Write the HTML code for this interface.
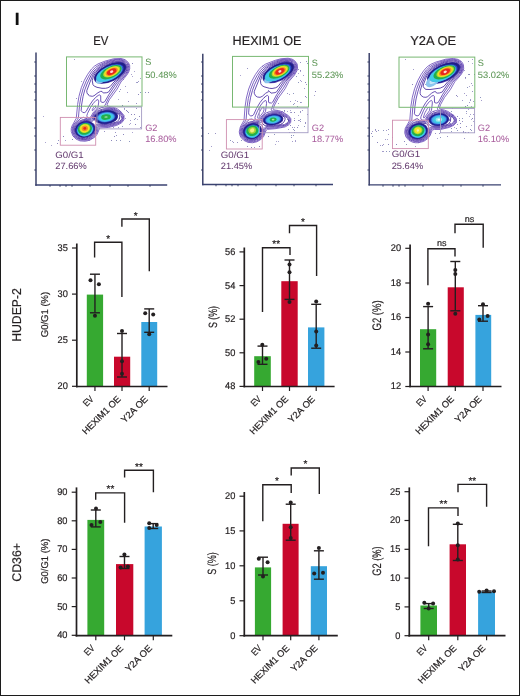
<!DOCTYPE html><html><head><meta charset="utf-8"><style>html,body{margin:0;padding:0;background:#fff}#f{position:relative;width:520px;height:696px;box-sizing:border-box;border:1px solid #1c1c1c;overflow:hidden;background:#fff}svg{position:absolute;left:-1px;top:-1px;will-change:transform}text{font-family:"Liberation Sans",sans-serif;text-rendering:geometricPrecision;stroke-width:0.2px}</style></head><body><div id="f">
<svg width="520" height="696" viewBox="0 0 520 696">
<text x="17.2" y="24.6" font-size="17.5" fill="#111" stroke="#111" text-anchor="middle" font-weight="bold" >I</text>
<g>
<line x1="36" y1="52.5" x2="36" y2="185.7" stroke="#2e3560" stroke-width="1.4" />
<line x1="35.3" y1="185" x2="167.2" y2="185" stroke="#3a4270" stroke-width="1.4" />
<line x1="34.2" y1="62" x2="36" y2="62" stroke="#2e3560" stroke-width="0.9" />
<line x1="34.2" y1="76" x2="36" y2="76" stroke="#2e3560" stroke-width="0.9" />
<line x1="34.2" y1="84" x2="36" y2="84" stroke="#2e3560" stroke-width="0.9" />
<line x1="34.2" y1="92" x2="36" y2="92" stroke="#2e3560" stroke-width="0.9" />
<line x1="34.2" y1="100" x2="36" y2="100" stroke="#2e3560" stroke-width="0.9" />
<line x1="34.2" y1="118" x2="36" y2="118" stroke="#2e3560" stroke-width="0.9" />
<line x1="34.2" y1="128" x2="36" y2="128" stroke="#2e3560" stroke-width="0.9" />
<line x1="34.2" y1="136" x2="36" y2="136" stroke="#2e3560" stroke-width="0.9" />
<line x1="34.2" y1="150" x2="36" y2="150" stroke="#2e3560" stroke-width="0.9" />
<line x1="34.2" y1="170" x2="36" y2="170" stroke="#2e3560" stroke-width="0.9" />
<line x1="50" y1="185" x2="50" y2="186.8" stroke="#2e3560" stroke-width="0.9" />
<line x1="60" y1="185" x2="60" y2="186.8" stroke="#2e3560" stroke-width="0.9" />
<line x1="66" y1="185" x2="66" y2="186.8" stroke="#2e3560" stroke-width="0.9" />
<line x1="72" y1="185" x2="72" y2="186.8" stroke="#2e3560" stroke-width="0.9" />
<line x1="90" y1="185" x2="90" y2="186.8" stroke="#2e3560" stroke-width="0.9" />
<line x1="110" y1="185" x2="110" y2="186.8" stroke="#2e3560" stroke-width="0.9" />
<line x1="128" y1="185" x2="128" y2="186.8" stroke="#2e3560" stroke-width="0.9" />
<line x1="150" y1="185" x2="150" y2="186.8" stroke="#2e3560" stroke-width="0.9" />
<rect x="76" y="98" width="1" height="1" fill="#9a94c4"/>
<rect x="81" y="81" width="1" height="1" fill="#a49dcc"/>
<rect x="90" y="76" width="1" height="1" fill="#aca6d0"/>
<rect x="74" y="59" width="1" height="1" fill="#a49dcc"/>
<rect x="88" y="94" width="1" height="1" fill="#9a94c4"/>
<rect x="134" y="71" width="1" height="1" fill="#aca6d0"/>
<rect x="132" y="63" width="1" height="1" fill="#8c86bc"/>
<rect x="119" y="59" width="1" height="1" fill="#9098c0"/>
<rect x="118" y="99" width="1" height="1" fill="#aca6d0"/>
<rect x="140" y="92" width="1" height="1" fill="#9098c0"/>
<rect x="123" y="79" width="1" height="1" fill="#a49dcc"/>
<rect x="131" y="74" width="1" height="1" fill="#aca6d0"/>
<rect x="136" y="103" width="1" height="1" fill="#9a94c4"/>
<rect x="128" y="101" width="1" height="1" fill="#9a94c4"/>
<rect x="122" y="105" width="1" height="1" fill="#8c86bc"/>
<rect x="121" y="74" width="1" height="1" fill="#9098c0"/>
<rect x="140" y="78" width="1" height="1" fill="#aca6d0"/>
<rect x="125" y="86" width="1" height="1" fill="#a49dcc"/>
<rect x="137" y="82" width="1" height="1" fill="#9098c0"/>
<rect x="138" y="81" width="1" height="1" fill="#a49dcc"/>
<rect x="128" y="66" width="1" height="1" fill="#9098c0"/>
<rect x="138" y="94" width="1" height="1" fill="#8c86bc"/>
<rect x="120" y="89" width="1" height="1" fill="#9a94c4"/>
<rect x="136" y="82" width="1" height="1" fill="#a49dcc"/>
<rect x="127" y="92" width="1" height="1" fill="#a49dcc"/>
<rect x="119" y="91" width="1" height="1" fill="#9098c0"/>
<rect x="132" y="76" width="1" height="1" fill="#aca6d0"/>
<rect x="117" y="113" width="1" height="1" fill="#9a94c4"/>
<rect x="134" y="119" width="1" height="1" fill="#9098c0"/>
<rect x="119" y="118" width="1" height="1" fill="#9098c0"/>
<rect x="122" y="126" width="1" height="1" fill="#9098c0"/>
<rect x="130" y="123" width="1" height="1" fill="#a49dcc"/>
<rect x="135" y="124" width="1" height="1" fill="#9098c0"/>
<rect x="135" y="118" width="1" height="1" fill="#9098c0"/>
<rect x="118" y="127" width="1" height="1" fill="#a49dcc"/>
<rect x="137" y="119" width="1" height="1" fill="#aca6d0"/>
<rect x="139" y="116" width="1" height="1" fill="#8c86bc"/>
<rect x="124" y="108" width="1" height="1" fill="#9098c0"/>
<rect x="130" y="120" width="1" height="1" fill="#a49dcc"/>
<rect x="129" y="124" width="1" height="1" fill="#aca6d0"/>
<rect x="128" y="112" width="1" height="1" fill="#9a94c4"/>
<rect x="135" y="124" width="1" height="1" fill="#8c86bc"/>
<rect x="113" y="127" width="1" height="1" fill="#9a94c4"/>
<rect x="114" y="108" width="1" height="1" fill="#9a94c4"/>
<rect x="134" y="114" width="1" height="1" fill="#8c86bc"/>
<rect x="115" y="120" width="1" height="1" fill="#8c86bc"/>
<rect x="120" y="111" width="1" height="1" fill="#8c86bc"/>
<rect x="127" y="111" width="1" height="1" fill="#8c86bc"/>
<rect x="131" y="114" width="1" height="1" fill="#8c86bc"/>
<rect x="126" y="110" width="1" height="1" fill="#8c86bc"/>
<rect x="123" y="116" width="1" height="1" fill="#aca6d0"/>
<rect x="119" y="113" width="1" height="1" fill="#9098c0"/>
<rect x="140" y="127" width="1" height="1" fill="#a49dcc"/>
<rect x="136" y="108" width="1" height="1" fill="#9a94c4"/>
<rect x="124" y="109" width="1" height="1" fill="#aca6d0"/>
<rect x="125" y="118" width="1" height="1" fill="#a49dcc"/>
<rect x="128" y="112" width="1" height="1" fill="#9098c0"/>
<rect x="116" y="135" width="1" height="1" fill="#9a94c4"/>
<rect x="114" y="136" width="1" height="1" fill="#8c86bc"/>
<rect x="123" y="134" width="1" height="1" fill="#8c86bc"/>
<rect x="104" y="131" width="1" height="1" fill="#9a94c4"/>
<rect x="111" y="140" width="1" height="1" fill="#8c86bc"/>
<rect x="132" y="132" width="1" height="1" fill="#aca6d0"/>
<rect x="115" y="132" width="1" height="1" fill="#9a94c4"/>
<rect x="120" y="140" width="1" height="1" fill="#9098c0"/>
<rect x="129" y="141" width="1" height="1" fill="#9098c0"/>
<rect x="116" y="140" width="1" height="1" fill="#9098c0"/>
<rect x="79" y="138" width="1" height="1" fill="#8c86bc"/>
<rect x="65" y="140" width="1" height="1" fill="#a49dcc"/>
<rect x="82" y="139" width="1" height="1" fill="#a49dcc"/>
<rect x="72" y="139" width="1" height="1" fill="#8c86bc"/>
<rect x="82" y="138" width="1" height="1" fill="#8c86bc"/>
<rect x="63" y="136" width="1" height="1" fill="#8c86bc"/>
<rect x="89" y="140" width="1" height="1" fill="#aca6d0"/>
<rect x="73" y="136" width="1" height="1" fill="#9a94c4"/>
<rect x="57" y="143" width="1" height="1" fill="#8c86bc"/>
<rect x="58" y="140" width="1" height="1" fill="#9098c0"/>
<rect x="51" y="145" width="1" height="1" fill="#aca6d0"/>
<rect x="43" y="116" width="1" height="1" fill="#aca6d0"/>
<rect x="45" y="142" width="1" height="1" fill="#aca6d0"/>
<rect x="145" y="92" width="1" height="1" fill="#9098c0"/>
<rect x="148" y="92" width="1" height="1" fill="#8c86bc"/>
<path d="M105.5 88.3 L102 88.3 L97 87.34 L94.25 86.12 L93 84.78 L92.26 80.75 L93.44 76.25 L95.81 72.25 L99.5 68.7 L103.25 66.2 L111.25 62.72 L116 61.69 L120.75 61.69 L124.5 63.12 L126.26 65.25 L126.56 68.25 L125.76 70.75 L124.13 73.25 L120.5 76.92 L114 81.88 L110.25 86.44 L107.96 87.75 L105.5 88.3Z" fill="none" stroke="#44289a" stroke-width="0.85" stroke-linejoin="round"/>
<path d="M85.5 138.01 L80.75 137.76 L77.98 136.5 L76.37 135.25 L74.74 132.5 L74.44 129 L74.99 127.25 L76.11 125.25 L79.75 122.05 L82.5 120.86 L85.75 120.38 L91.75 121.26 L93 120.82 L93.5 119.96 L93.96 116.25 L95.35 114 L99.25 111.23 L102.5 110.16 L109 109.69 L113 110.46 L115.75 111.77 L119.69 115 L119.8 117 L118.84 119.75 L117 121.75 L116 122.17 L107.75 124.33 L103.75 124.56 L98.75 123.92 L96.5 124.51 L95.54 126.5 L95.27 130.75 L93.38 134 L91.02 136 L88.5 137.26 L85.5 138.01Z" fill="none" stroke="#44289a" stroke-width="0.85" stroke-linejoin="round"/>
<path d="M92.25 96.32 L89.5 95.81 L87.69 94.25 L86.95 92.75 L86.75 90.75 L92.64 75.25 L94.87 71.75 L96.75 69.84 L100.25 66.95 L104.75 64.41 L109.5 62.42 L114.25 61.15 L121 60.91 L124 61.83 L126.5 64 L127.34 66 L127.34 68.5 L125.68 72.5 L121.1 77.5 L115.46 82.25 L108.5 92.07 L106.75 92.71 L103.25 92.97 L102 91.4 L100.5 91.41 L98 92.68 L94 95.8 L92.25 96.32Z" fill="none" stroke="#4c30a4" stroke-width="0.85" stroke-linejoin="round"/>
<path d="M85.75 138.77 L80.75 138.59 L77.5 137.17 L75.75 135.75 L73.98 132.75 L73.64 129 L74.32 126.75 L75.5 124.72 L79.5 121.14 L83.25 119.54 L91.75 119.95 L92.33 119.5 L93.28 115.75 L94.75 113.44 L98.5 110.53 L102.25 109.2 L109 108.88 L113.25 109.7 L116.43 111.25 L121.5 115.85 L121.86 118.5 L121.25 119.83 L119.5 121.37 L116.25 122.95 L108 125.11 L103.75 125.37 L99.25 124.9 L97.57 125.25 L96.7 126.25 L96.03 131 L94 134.5 L91.5 136.67 L88.75 138.02 L85.75 138.77Z" fill="none" stroke="#4c30a4" stroke-width="0.85" stroke-linejoin="round"/>
<path d="M84.75 112.57 L82.83 112.5 L81.19 110.75 L81.58 105 L83.08 96.25 L84.85 89.75 L87.03 84 L90.87 75.75 L93.92 71 L99.75 66.01 L104.25 63.63 L110.75 61.15 L115.75 60.09 L120.75 60.09 L124 60.96 L125.5 61.87 L127.3 63.75 L128.11 65.75 L128.15 68.5 L127.19 71.5 L125.25 74.42 L116.7 83 L109.08 94.25 L104.75 101.68 L103 102.53 L101.18 102 L100.75 101.26 L100.71 95.75 L99.75 94.93 L98.25 95.38 L95.5 97.53 L92.44 101 L89.06 106 L86.25 111.3 L84.75 112.57Z" fill="none" stroke="#5638ac" stroke-width="0.85" stroke-linejoin="round"/>
<path d="M86 139.53 L80.5 139.35 L77 137.8 L74.37 135.25 L72.89 132 L72.89 128.5 L74.17 125.25 L80.75 118.2 L83.75 117.35 L84.75 118.06 L87.75 118.86 L91 118.83 L94.23 112.75 L98.75 108.82 L102 107.42 L104.5 108.09 L109.25 108.08 L113.75 109.03 L119 112.13 L122.08 115.25 L122.65 116.5 L122.56 119 L121.75 120.49 L120 122.01 L116.5 123.72 L109.5 125.67 L105.5 126.17 L100.25 125.84 L98.25 126.17 L97.46 127.5 L96.7 131.5 L94.5 135.15 L91.75 137.44 L89 138.78 L86 139.53Z" fill="none" stroke="#5638ac" stroke-width="0.85" stroke-linejoin="round"/>
<path d="M86.25 140.29 L80.25 140.12 L75.25 137.5 L72.55 133.5 L72.04 129 L73.37 125 L77.52 119.75 L78.42 117.5 L79.59 104.75 L80.93 96.75 L83.16 88.5 L86.22 81 L89.86 74.25 L92.68 70.25 L95.5 67.45 L99 65.04 L105.5 62.06 L113.75 59.59 L121 59.3 L124.75 60.41 L127.75 63 L128.87 65.5 L128.92 68.75 L127.96 71.75 L126 74.8 L118.68 82.75 L115.65 88 L108.75 97.71 L104.73 105.75 L105.02 106.5 L106 106.9 L114 108.27 L119.5 111.48 L123.02 115.25 L123.47 116.75 L123.21 119.5 L121.25 122.12 L116.25 124.67 L108.25 126.7 L100.25 126.76 L99 127.13 L98.25 128.24 L97.46 131.75 L95.03 135.75 L92.25 138.08 L89.25 139.54 L86.25 140.29Z" fill="none" stroke="#6244b4" stroke-width="0.85" stroke-linejoin="round"/>
<path d="M89.83 117.75 L90.75 117 L93.4 112.25 L97.07 108.75 L97.99 107.25 L98.75 102 L98.53 100.25 L98 99.57 L96 100.39 L93.25 103.41 L90.4 107.75 L87.59 113.25 L86.79 115.75 L86.97 116.75 L88 117.62 L89.83 117.75Z" fill="none" stroke="#6244b4" stroke-width="0.85" stroke-linejoin="round"/>
<path d="M85.25 141.25 L80 140.88 L76 139.06 L72.94 136 L71.24 131.5 L71.26 128.5 L71.98 126 L76.25 118.33 L77.61 104.5 L78.99 96.25 L81.3 87.75 L84.37 80.25 L87.71 74.25 L91.53 69 L94.5 66.12 L98 63.91 L105 61.14 L113.75 58.75 L121 58.49 L125 59.64 L128.38 62.5 L129.64 65.25 L129.73 68.75 L128.73 72 L126.7 75.25 L120.92 82 L117.15 89 L109.29 99.75 L106.87 105 L107.74 106 L114.5 107.6 L117.75 109.17 L120.5 111.25 L124.02 115.5 L123.98 119.75 L121.75 122.74 L116.75 125.37 L108.5 127.48 L99.75 128 L97.11 134.25 L94.75 137.16 L89.75 140.21 L85.25 141.25Z" fill="none" stroke="#6e50bc" stroke-width="0.85" stroke-linejoin="round"/>
<path d="M92.31 110.75 L95 108.46 L95.72 107 L95.5 105.91 L94.5 106.29 L93.26 107.75 L92.21 109.75 L92.31 110.75Z" fill="none" stroke="#6e50bc" stroke-width="0.85" stroke-linejoin="round"/>
<ellipse cx="110.2" cy="72.8" rx="17.6" ry="8.8" transform="rotate(-26 110.2 72.8)" fill="#4e3cb0" stroke="none" stroke-width="0"/>
<ellipse cx="110.2" cy="72.8" rx="17" ry="8.2" transform="rotate(-26 110.2 72.8)" fill="#1f1f86" stroke="none" stroke-width="0"/>
<ellipse cx="109.9" cy="73.02" rx="14.79" ry="6.97" transform="rotate(-26 109.9 73.02)" fill="#2a4fcc" stroke="none" stroke-width="0"/>
<ellipse cx="102.2" cy="78.2" rx="7.5" ry="3.8" transform="rotate(-38 102.2 78.2)" fill="#8cc6ee" stroke="none" stroke-width="0"/>
<ellipse cx="103.15" cy="77.55" rx="5.25" ry="2.28" transform="rotate(-38 103.15 77.55)" fill="#c8e6f8" stroke="none" stroke-width="0"/>
<ellipse cx="109.3" cy="73.46" rx="14.11" ry="6.64" transform="rotate(-26 109.3 73.46)" fill="#4aa6e6" stroke="none" stroke-width="0"/>
<ellipse cx="109" cy="73.68" rx="13.43" ry="6.31" transform="rotate(-26 109 73.68)" fill="#3fcbe6" stroke="none" stroke-width="0"/>
<ellipse cx="110.95" cy="72.25" rx="11.56" ry="5.66" transform="rotate(-26 110.95 72.25)" fill="#22b04c" stroke="none" stroke-width="0"/>
<ellipse cx="111.7" cy="71.7" rx="9.35" ry="4.59" transform="rotate(-26 111.7 71.7)" fill="#a6d434" stroke="none" stroke-width="0"/>
<ellipse cx="111.7" cy="71.7" rx="8.16" ry="4.1" transform="rotate(-26 111.7 71.7)" fill="#f1e424" stroke="none" stroke-width="0"/>
<ellipse cx="111.7" cy="71.7" rx="6.63" ry="3.36" transform="rotate(-26 111.7 71.7)" fill="#f39222" stroke="none" stroke-width="0"/>
<ellipse cx="111.7" cy="71.7" rx="5.1" ry="2.71" transform="rotate(-26 111.7 71.7)" fill="#e8281c" stroke="none" stroke-width="0"/>
<ellipse cx="111.7" cy="71.7" rx="1.7" ry="1.23" transform="rotate(-26 111.7 71.7)" fill="#ffd6d0" stroke="none" stroke-width="0"/>
<ellipse cx="106" cy="117.1" rx="12.2" ry="7.2" transform="rotate(-6 106 117.1)" fill="#4e3cb0" stroke="none" stroke-width="0"/>
<ellipse cx="106" cy="117.1" rx="11.6" ry="6.6" transform="rotate(-6 106 117.1)" fill="#1f1f86" stroke="none" stroke-width="0"/>
<ellipse cx="106" cy="117.1" rx="9.51" ry="5.28" transform="rotate(-6 106 117.1)" fill="#2a4fcc" stroke="none" stroke-width="0"/>
<ellipse cx="106" cy="117.1" rx="8.58" ry="4.75" transform="rotate(-6 106 117.1)" fill="#4aa6e6" stroke="none" stroke-width="0"/>
<ellipse cx="106" cy="117.1" rx="7.42" ry="4.09" transform="rotate(-6 106 117.1)" fill="#3fcbe6" stroke="none" stroke-width="0"/>
<ellipse cx="106" cy="117.1" rx="4.87" ry="2.77" transform="rotate(-6 106 117.1)" fill="#22b04c" stroke="none" stroke-width="0"/>
<ellipse cx="106" cy="117.1" rx="1.74" ry="0.99" transform="rotate(-6 106 117.1)" fill="#7fd48a" stroke="none" stroke-width="0"/>
<ellipse cx="85" cy="129.3" rx="10.6" ry="8.5" transform="rotate(-15 85 129.3)" fill="#4e3cb0" stroke="none" stroke-width="0"/>
<ellipse cx="85" cy="129.3" rx="10" ry="7.9" transform="rotate(-15 85 129.3)" fill="#1f1f86" stroke="none" stroke-width="0"/>
<ellipse cx="85.04" cy="129.48" rx="8.8" ry="6.95" transform="rotate(-15 85.04 129.48)" fill="#2a4fcc" stroke="none" stroke-width="0"/>
<ellipse cx="85.16" cy="130.02" rx="8" ry="6.32" transform="rotate(-15 85.16 130.02)" fill="#3fcbe6" stroke="none" stroke-width="0"/>
<ellipse cx="84.9" cy="128.85" rx="7.2" ry="5.85" transform="rotate(-15 84.9 128.85)" fill="#22b04c" stroke="none" stroke-width="0"/>
<ellipse cx="84.8" cy="128.4" rx="5.6" ry="4.58" transform="rotate(-15 84.8 128.4)" fill="#a6d434" stroke="none" stroke-width="0"/>
<ellipse cx="84.8" cy="128.4" rx="4.8" ry="3.95" transform="rotate(-15 84.8 128.4)" fill="#f1e424" stroke="none" stroke-width="0"/>
<ellipse cx="84.8" cy="128.4" rx="3.2" ry="2.69" transform="rotate(-15 84.8 128.4)" fill="#f39222" stroke="none" stroke-width="0"/>
<ellipse cx="84.8" cy="128.4" rx="1.6" ry="1.42" transform="rotate(-15 84.8 128.4)" fill="#e8281c" stroke="none" stroke-width="0"/>
<rect x="66.5" y="56.9" width="75.5" height="49.3" fill="none" stroke="#78b872" stroke-width="1"/>
<rect x="97" y="107" width="44.6" height="21.9" fill="none" stroke="#a49cc4" stroke-width="0.9"/>
<rect x="60.3" y="117.4" width="35.4" height="27.8" fill="none" stroke="#cf8fb0" stroke-width="0.9"/>
<text x="145.2" y="65.4" font-size="9.2" fill="#5a9452" stroke="#5a9452" text-anchor="start" style="stroke-width:0.05px">S</text>
<text x="145.2" y="77.7" font-size="9.2" fill="#5a9452" stroke="#5a9452" text-anchor="start" textLength="31.6" lengthAdjust="spacingAndGlyphs" style="stroke-width:0.05px">50.48%</text>
<text x="145.2" y="130.6" font-size="9.2" fill="#a85c9c" stroke="#a85c9c" text-anchor="start" style="stroke-width:0.05px">G2</text>
<text x="145.2" y="142" font-size="9.2" fill="#a85c9c" stroke="#a85c9c" text-anchor="start" textLength="31.4" lengthAdjust="spacingAndGlyphs" style="stroke-width:0.05px">16.80%</text>
<text x="55.3" y="157.9" font-size="9.2" fill="#633a6e" stroke="#633a6e" text-anchor="start" textLength="28.4" lengthAdjust="spacingAndGlyphs" style="stroke-width:0.05px">G0/G1</text>
<text x="55.3" y="169.4" font-size="9.2" fill="#633a6e" stroke="#633a6e" text-anchor="start" textLength="31.5" lengthAdjust="spacingAndGlyphs" style="stroke-width:0.05px">27.66%</text>
<text x="100.75" y="44.7" font-size="12.8" fill="#231f20" stroke="#231f20" text-anchor="middle" textLength="15.2" lengthAdjust="spacingAndGlyphs" >EV</text>
</g>
<g>
<line x1="202.8" y1="53.7" x2="202.8" y2="185.2" stroke="#2e3560" stroke-width="1.4" />
<line x1="202.1" y1="184.5" x2="333" y2="184.5" stroke="#3a4270" stroke-width="1.4" />
<line x1="201" y1="62" x2="202.8" y2="62" stroke="#2e3560" stroke-width="0.9" />
<line x1="201" y1="76" x2="202.8" y2="76" stroke="#2e3560" stroke-width="0.9" />
<line x1="201" y1="84" x2="202.8" y2="84" stroke="#2e3560" stroke-width="0.9" />
<line x1="201" y1="92" x2="202.8" y2="92" stroke="#2e3560" stroke-width="0.9" />
<line x1="201" y1="100" x2="202.8" y2="100" stroke="#2e3560" stroke-width="0.9" />
<line x1="201" y1="118" x2="202.8" y2="118" stroke="#2e3560" stroke-width="0.9" />
<line x1="201" y1="128" x2="202.8" y2="128" stroke="#2e3560" stroke-width="0.9" />
<line x1="201" y1="136" x2="202.8" y2="136" stroke="#2e3560" stroke-width="0.9" />
<line x1="201" y1="150" x2="202.8" y2="150" stroke="#2e3560" stroke-width="0.9" />
<line x1="201" y1="170" x2="202.8" y2="170" stroke="#2e3560" stroke-width="0.9" />
<line x1="216" y1="184.5" x2="216" y2="186.3" stroke="#2e3560" stroke-width="0.9" />
<line x1="226" y1="184.5" x2="226" y2="186.3" stroke="#2e3560" stroke-width="0.9" />
<line x1="232" y1="184.5" x2="232" y2="186.3" stroke="#2e3560" stroke-width="0.9" />
<line x1="238" y1="184.5" x2="238" y2="186.3" stroke="#2e3560" stroke-width="0.9" />
<line x1="256" y1="184.5" x2="256" y2="186.3" stroke="#2e3560" stroke-width="0.9" />
<line x1="276" y1="184.5" x2="276" y2="186.3" stroke="#2e3560" stroke-width="0.9" />
<line x1="294" y1="184.5" x2="294" y2="186.3" stroke="#2e3560" stroke-width="0.9" />
<line x1="316" y1="184.5" x2="316" y2="186.3" stroke="#2e3560" stroke-width="0.9" />
<rect x="278" y="103" width="1" height="1" fill="#9a94c4"/>
<rect x="240" y="75" width="1" height="1" fill="#aca6d0"/>
<rect x="268" y="90" width="1" height="1" fill="#8c86bc"/>
<rect x="247" y="68" width="1" height="1" fill="#9a94c4"/>
<rect x="262" y="66" width="1" height="1" fill="#a49dcc"/>
<rect x="264" y="97" width="1" height="1" fill="#9098c0"/>
<rect x="306" y="84" width="1" height="1" fill="#a49dcc"/>
<rect x="297" y="101" width="1" height="1" fill="#9a94c4"/>
<rect x="294" y="103" width="1" height="1" fill="#a49dcc"/>
<rect x="295" y="100" width="1" height="1" fill="#aca6d0"/>
<rect x="298" y="69" width="1" height="1" fill="#9a94c4"/>
<rect x="290" y="66" width="1" height="1" fill="#9098c0"/>
<rect x="297" y="106" width="1" height="1" fill="#9098c0"/>
<rect x="290" y="101" width="1" height="1" fill="#a49dcc"/>
<rect x="301" y="102" width="1" height="1" fill="#8c86bc"/>
<rect x="303" y="75" width="1" height="1" fill="#a49dcc"/>
<rect x="289" y="94" width="1" height="1" fill="#a49dcc"/>
<rect x="300" y="70" width="1" height="1" fill="#8c86bc"/>
<rect x="305" y="82" width="1" height="1" fill="#8c86bc"/>
<rect x="300" y="80" width="1" height="1" fill="#a49dcc"/>
<rect x="293" y="93" width="1" height="1" fill="#9098c0"/>
<rect x="301" y="81" width="1" height="1" fill="#aca6d0"/>
<rect x="306" y="97" width="1" height="1" fill="#aca6d0"/>
<rect x="304" y="88" width="1" height="1" fill="#a49dcc"/>
<rect x="293" y="104" width="1" height="1" fill="#9098c0"/>
<rect x="298" y="82" width="1" height="1" fill="#9098c0"/>
<rect x="298" y="73" width="1" height="1" fill="#aca6d0"/>
<rect x="296" y="76" width="1" height="1" fill="#9098c0"/>
<rect x="305" y="96" width="1" height="1" fill="#8c86bc"/>
<rect x="301" y="102" width="1" height="1" fill="#aca6d0"/>
<rect x="307" y="63" width="1" height="1" fill="#9098c0"/>
<rect x="300" y="71" width="1" height="1" fill="#aca6d0"/>
<rect x="300" y="102" width="1" height="1" fill="#9098c0"/>
<rect x="289" y="71" width="1" height="1" fill="#aca6d0"/>
<rect x="306" y="61" width="1" height="1" fill="#9a94c4"/>
<rect x="287" y="75" width="1" height="1" fill="#aca6d0"/>
<rect x="300" y="62" width="1" height="1" fill="#9a94c4"/>
<rect x="287" y="93" width="1" height="1" fill="#9a94c4"/>
<rect x="290" y="112" width="1" height="1" fill="#aca6d0"/>
<rect x="300" y="121" width="1" height="1" fill="#9a94c4"/>
<rect x="290" y="110" width="1" height="1" fill="#aca6d0"/>
<rect x="284" y="110" width="1" height="1" fill="#8c86bc"/>
<rect x="305" y="123" width="1" height="1" fill="#9a94c4"/>
<rect x="288" y="120" width="1" height="1" fill="#8c86bc"/>
<rect x="292" y="127" width="1" height="1" fill="#9a94c4"/>
<rect x="304" y="126" width="1" height="1" fill="#9098c0"/>
<rect x="299" y="120" width="1" height="1" fill="#aca6d0"/>
<rect x="283" y="125" width="1" height="1" fill="#9a94c4"/>
<rect x="281" y="127" width="1" height="1" fill="#aca6d0"/>
<rect x="294" y="127" width="1" height="1" fill="#a49dcc"/>
<rect x="294" y="112" width="1" height="1" fill="#8c86bc"/>
<rect x="287" y="123" width="1" height="1" fill="#a49dcc"/>
<rect x="298" y="125" width="1" height="1" fill="#aca6d0"/>
<rect x="298" y="115" width="1" height="1" fill="#aca6d0"/>
<rect x="284" y="111" width="1" height="1" fill="#aca6d0"/>
<rect x="294" y="132" width="1" height="1" fill="#9a94c4"/>
<rect x="307" y="114" width="1" height="1" fill="#a49dcc"/>
<rect x="282" y="111" width="1" height="1" fill="#aca6d0"/>
<rect x="297" y="127" width="1" height="1" fill="#8c86bc"/>
<rect x="287" y="119" width="1" height="1" fill="#9098c0"/>
<rect x="300" y="112" width="1" height="1" fill="#a49dcc"/>
<rect x="291" y="112" width="1" height="1" fill="#9a94c4"/>
<rect x="287" y="111" width="1" height="1" fill="#aca6d0"/>
<rect x="300" y="111" width="1" height="1" fill="#9a94c4"/>
<rect x="294" y="120" width="1" height="1" fill="#8c86bc"/>
<rect x="294" y="118" width="1" height="1" fill="#aca6d0"/>
<rect x="300" y="119" width="1" height="1" fill="#9098c0"/>
<rect x="281" y="123" width="1" height="1" fill="#a49dcc"/>
<rect x="305" y="122" width="1" height="1" fill="#9a94c4"/>
<rect x="298" y="120" width="1" height="1" fill="#9a94c4"/>
<rect x="294" y="130" width="1" height="1" fill="#9098c0"/>
<rect x="290" y="125" width="1" height="1" fill="#8c86bc"/>
<rect x="288" y="129" width="1" height="1" fill="#a49dcc"/>
<rect x="283" y="116" width="1" height="1" fill="#9a94c4"/>
<rect x="302" y="110" width="1" height="1" fill="#a49dcc"/>
<rect x="293" y="129" width="1" height="1" fill="#9098c0"/>
<rect x="268" y="136" width="1" height="1" fill="#8c86bc"/>
<rect x="276" y="141" width="1" height="1" fill="#aca6d0"/>
<rect x="291" y="135" width="1" height="1" fill="#9098c0"/>
<rect x="278" y="141" width="1" height="1" fill="#aca6d0"/>
<rect x="291" y="137" width="1" height="1" fill="#9a94c4"/>
<rect x="274" y="134" width="1" height="1" fill="#9098c0"/>
<rect x="295" y="140" width="1" height="1" fill="#aca6d0"/>
<rect x="289" y="132" width="1" height="1" fill="#a49dcc"/>
<rect x="292" y="141" width="1" height="1" fill="#a49dcc"/>
<rect x="275" y="144" width="1" height="1" fill="#aca6d0"/>
<rect x="293" y="135" width="1" height="1" fill="#9098c0"/>
<rect x="295" y="141" width="1" height="1" fill="#a49dcc"/>
<rect x="259" y="146" width="1" height="1" fill="#8c86bc"/>
<rect x="241" y="140" width="1" height="1" fill="#9098c0"/>
<rect x="237" y="142" width="1" height="1" fill="#9a94c4"/>
<rect x="247" y="146" width="1" height="1" fill="#9a94c4"/>
<rect x="230" y="140" width="1" height="1" fill="#9098c0"/>
<rect x="233" y="142" width="1" height="1" fill="#9a94c4"/>
<rect x="254" y="147" width="1" height="1" fill="#9a94c4"/>
<rect x="232" y="141" width="1" height="1" fill="#aca6d0"/>
<rect x="251" y="147" width="1" height="1" fill="#8c86bc"/>
<rect x="215" y="133" width="1" height="1" fill="#9a94c4"/>
<rect x="209" y="150" width="1" height="1" fill="#a49dcc"/>
<rect x="208" y="133" width="1" height="1" fill="#9098c0"/>
<rect x="211" y="146" width="1" height="1" fill="#a49dcc"/>
<rect x="315" y="91" width="1" height="1" fill="#8c86bc"/>
<rect x="314" y="95" width="1" height="1" fill="#aca6d0"/>
<path d="M272.05 88.51 L269.3 88.27 L264.05 86.78 L262.19 85.75 L260.79 83.75 L260.47 80.75 L261.75 76.25 L264.56 71.5 L270.8 66.43 L276.8 63.45 L280.55 62.23 L285.05 61.44 L288.05 61.44 L292.3 62.87 L294.31 65.5 L294.36 68.25 L293.55 70.53 L291.93 73 L288.8 76.16 L281.8 81.5 L277.92 86.5 L275.7 87.75 L272.05 88.51Z" fill="none" stroke="#44289a" stroke-width="0.85" stroke-linejoin="round"/>
<path d="M265.8 125.79 L264.05 125.11 L261.88 122.75 L263.65 117.75 L267.55 114.93 L272.05 113.67 L277.55 113.68 L281.05 114.77 L284.99 117.5 L285.06 119.5 L284.14 121.75 L281.2 124.5 L273.8 125.6 L268.3 125.43 L265.8 125.79Z" fill="none" stroke="#44289a" stroke-width="0.85" stroke-linejoin="round"/>
<path d="M252.8 139.51 L248.05 139.01 L245.8 137.88 L243.67 135.75 L242.49 131.75 L243.28 128.5 L246.3 124.8 L250.3 122.8 L254.8 122.64 L258.8 123.89 L260.3 123.84 L261.96 125.5 L262.95 127.75 L261.82 133 L260.18 135.75 L258.05 137.63 L255.8 138.76 L252.8 139.51Z" fill="none" stroke="#44289a" stroke-width="0.85" stroke-linejoin="round"/>
<path d="M260.05 97.33 L257.34 97 L255.49 95.75 L254.25 93.25 L254.3 91.28 L260.61 75.75 L263.8 70.74 L266.81 68 L270.3 65.67 L276.3 62.77 L280.3 61.45 L284.8 60.66 L288.05 60.64 L290.8 61.23 L292.8 62.25 L294.3 63.75 L295.14 65.5 L295.14 68.5 L294.22 71 L292.55 73.52 L289.38 76.75 L283.44 81.75 L276.55 91.88 L275.05 92.65 L271.05 93.15 L269.8 91.61 L268.3 91.69 L265.55 93.33 L262.3 96.32 L260.05 97.33Z" fill="none" stroke="#4c30a4" stroke-width="0.85" stroke-linejoin="round"/>
<path d="M253.05 140.27 L248.8 140.09 L245.55 138.67 L243.05 136.25 L242.03 134 L241.71 131.5 L242.61 128 L245.61 124.25 L247.8 122.63 L251.8 121.45 L259.05 122.83 L260.3 122.58 L261.46 121.25 L262.33 118.25 L264.05 116.2 L268.3 113.54 L271.8 112.85 L277.8 112.89 L280.55 113.66 L287.05 117.68 L288.31 119 L288.62 121 L287.8 122.51 L284.55 124.56 L274.05 126.4 L268.05 126.34 L265.8 126.84 L263.34 129.25 L262.58 133.25 L260.8 136.25 L258.3 138.42 L253.05 140.27Z" fill="none" stroke="#4c30a4" stroke-width="0.85" stroke-linejoin="round"/>
<path d="M252.05 115.85 L250.55 115.84 L249.55 115.26 L248.8 114.19 L248.64 112.75 L249.32 104.75 L250.62 97.25 L252.5 90.25 L254.66 84.5 L259.21 75.25 L261.76 71.25 L264.8 68.16 L268.8 65.37 L276.05 61.95 L280.05 60.68 L284.8 59.84 L288.3 59.85 L291.05 60.46 L293.3 61.62 L294.93 63.25 L295.91 65.25 L295.95 68.5 L294.99 71.25 L293.05 74.17 L285.3 81.6 L276.64 94.75 L272.8 101.98 L271.55 103.05 L268.99 102.75 L268.55 102 L268.51 96.25 L267.55 95.42 L266.05 95.97 L263.19 98.5 L260.03 102.5 L256.46 108.5 L253.55 114.82 L252.05 115.85Z" fill="none" stroke="#5638ac" stroke-width="0.85" stroke-linejoin="round"/>
<path d="M253.3 141.03 L248.55 140.86 L245.05 139.3 L242.42 136.75 L241.19 134 L240.9 131.5 L241.95 127.5 L245.05 123.49 L249.3 119.39 L252.3 118.99 L252.83 120 L253.76 120.5 L257.8 121.61 L259.8 121.51 L260.55 120.74 L261.65 117.75 L263.3 115.74 L266.55 112.78 L269.3 111.79 L277.8 112.08 L280.8 112.89 L287.55 117.02 L288.96 118.5 L289.42 121 L288.94 122.25 L287.8 123.65 L284.8 125.33 L274.3 127.18 L267.8 127.25 L266.15 127.75 L264.3 129.56 L263.25 133.75 L261.3 136.9 L258.55 139.19 L253.3 141.03Z" fill="none" stroke="#5638ac" stroke-width="0.85" stroke-linejoin="round"/>
<path d="M253.55 141.8 L248.3 141.62 L244.3 139.75 L241.46 136.75 L240.42 134.25 L240.08 131.75 L241.14 127.25 L246.05 120 L246.99 107.5 L248.31 98.5 L250.64 89.5 L253.48 82.25 L256.9 75.75 L260.43 70.5 L263.05 67.75 L266.8 65.13 L275.8 61.11 L281.05 59.58 L288.05 59.04 L291.55 59.8 L294.05 61.22 L295.74 63 L296.6 64.75 L296.72 68.75 L295.76 71.5 L293.63 74.75 L287.34 81.25 L283.44 88 L278.05 95.46 L273.3 104.28 L271.22 109.75 L271.6 110.5 L272.55 110.91 L278.3 111.34 L283.55 113.39 L288.05 116.38 L289.55 117.95 L290.21 119.5 L289.97 122 L288.3 124.27 L283.8 126.47 L274.3 128 L266.8 128.52 L265.05 130.21 L264.02 134 L261.83 137.5 L259.05 139.83 L256.55 141.05 L253.55 141.8Z" fill="none" stroke="#6244b4" stroke-width="0.85" stroke-linejoin="round"/>
<path d="M258.54 120.5 L259.55 120 L260.9 117.25 L264.3 113.48 L265.55 111.29 L266.53 103.5 L266.36 101.25 L265.8 100.44 L263.67 101.5 L260.87 105 L257.86 110.25 L255.55 115.49 L254.95 117.5 L255.13 119 L256.3 119.98 L258.54 120.5Z" fill="none" stroke="#6244b4" stroke-width="0.85" stroke-linejoin="round"/>
<path d="M252.55 142.75 L248.05 142.38 L243.8 140.38 L240.69 137 L239.66 134.5 L239.27 131.75 L240.31 127 L244.04 120.25 L245 107.25 L246.37 98 L248.7 89 L251.98 80.75 L255.42 74.5 L258.98 69.5 L261.8 66.57 L265.55 64.09 L275.3 60.3 L281.05 58.74 L288.05 58.23 L292.05 59.14 L294.55 60.58 L297.16 64 L297.56 68.25 L297.03 70.5 L294.5 75 L288.85 81.5 L285.11 88.75 L278.3 98.01 L274.57 105 L273.2 108.75 L274.13 110 L278.55 110.56 L282.55 111.88 L288.55 115.74 L290.85 118.75 L290.74 122.25 L288.99 124.75 L285.05 126.95 L276.05 128.6 L267.3 129.36 L265.87 130.75 L263.78 136.25 L261.3 139.16 L257.05 141.71 L252.55 142.75Z" fill="none" stroke="#6e50bc" stroke-width="0.85" stroke-linejoin="round"/>
<path d="M258.65 118.25 L263.38 112 L264.05 109.25 L263.55 107.07 L262.8 107.16 L261.55 108.45 L258.73 113.5 L257.48 117.25 L257.8 118.28 L258.65 118.25Z" fill="none" stroke="#6e50bc" stroke-width="0.85" stroke-linejoin="round"/>
<ellipse cx="278.4" cy="72.4" rx="17.2" ry="8.6" transform="rotate(-26 278.4 72.4)" fill="#4e3cb0" stroke="none" stroke-width="0"/>
<ellipse cx="278.4" cy="72.4" rx="16.6" ry="8" transform="rotate(-26 278.4 72.4)" fill="#1f1f86" stroke="none" stroke-width="0"/>
<ellipse cx="278.1" cy="72.62" rx="14.44" ry="6.8" transform="rotate(-26 278.1 72.62)" fill="#2a4fcc" stroke="none" stroke-width="0"/>
<ellipse cx="270.4" cy="77.8" rx="7.5" ry="3.8" transform="rotate(-38 270.4 77.8)" fill="#8cc6ee" stroke="none" stroke-width="0"/>
<ellipse cx="271.35" cy="77.15" rx="5.25" ry="2.28" transform="rotate(-38 271.35 77.15)" fill="#c8e6f8" stroke="none" stroke-width="0"/>
<ellipse cx="277.5" cy="73.06" rx="13.78" ry="6.48" transform="rotate(-26 277.5 73.06)" fill="#4aa6e6" stroke="none" stroke-width="0"/>
<ellipse cx="277.2" cy="73.28" rx="13.11" ry="6.16" transform="rotate(-26 277.2 73.28)" fill="#3fcbe6" stroke="none" stroke-width="0"/>
<ellipse cx="279.15" cy="71.85" rx="11.29" ry="5.52" transform="rotate(-26 279.15 71.85)" fill="#22b04c" stroke="none" stroke-width="0"/>
<ellipse cx="279.9" cy="71.3" rx="9.13" ry="4.48" transform="rotate(-26 279.9 71.3)" fill="#a6d434" stroke="none" stroke-width="0"/>
<ellipse cx="279.9" cy="71.3" rx="7.97" ry="4" transform="rotate(-26 279.9 71.3)" fill="#f1e424" stroke="none" stroke-width="0"/>
<ellipse cx="279.9" cy="71.3" rx="6.47" ry="3.28" transform="rotate(-26 279.9 71.3)" fill="#f39222" stroke="none" stroke-width="0"/>
<ellipse cx="279.9" cy="71.3" rx="4.98" ry="2.64" transform="rotate(-26 279.9 71.3)" fill="#e8281c" stroke="none" stroke-width="0"/>
<ellipse cx="279.9" cy="71.3" rx="1.66" ry="1.2" transform="rotate(-26 279.9 71.3)" fill="#ffd6d0" stroke="none" stroke-width="0"/>
<ellipse cx="273.1" cy="119.6" rx="10.4" ry="5.8" transform="rotate(-8 273.1 119.6)" fill="#4e3cb0" stroke="none" stroke-width="0"/>
<ellipse cx="273.1" cy="119.6" rx="9.8" ry="5.2" transform="rotate(-8 273.1 119.6)" fill="#1f1f86" stroke="none" stroke-width="0"/>
<ellipse cx="273.1" cy="119.6" rx="8.43" ry="4.37" transform="rotate(-8 273.1 119.6)" fill="#2a4fcc" stroke="none" stroke-width="0"/>
<ellipse cx="273.1" cy="119.6" rx="7.45" ry="3.85" transform="rotate(-8 273.1 119.6)" fill="#4aa6e6" stroke="none" stroke-width="0"/>
<ellipse cx="273.1" cy="119.6" rx="6.08" ry="3.22" transform="rotate(-8 273.1 119.6)" fill="#3fcbe6" stroke="none" stroke-width="0"/>
<ellipse cx="273.1" cy="119.6" rx="3.53" ry="2.08" transform="rotate(-8 273.1 119.6)" fill="#22b04c" stroke="none" stroke-width="0"/>
<ellipse cx="273.1" cy="119.6" rx="1.37" ry="0.83" transform="rotate(-8 273.1 119.6)" fill="#a8e0a0" stroke="none" stroke-width="0"/>
<ellipse cx="252.4" cy="131.1" rx="9.8" ry="8.2" transform="rotate(-15 252.4 131.1)" fill="#4e3cb0" stroke="none" stroke-width="0"/>
<ellipse cx="252.4" cy="131.1" rx="9.2" ry="7.6" transform="rotate(-15 252.4 131.1)" fill="#1f1f86" stroke="none" stroke-width="0"/>
<ellipse cx="252.44" cy="131.24" rx="7.91" ry="6.54" transform="rotate(-15 252.44 131.24)" fill="#2a4fcc" stroke="none" stroke-width="0"/>
<ellipse cx="252.56" cy="131.66" rx="7.18" ry="5.93" transform="rotate(-15 252.56 131.66)" fill="#3fcbe6" stroke="none" stroke-width="0"/>
<ellipse cx="252.3" cy="130.75" rx="6.07" ry="5.17" transform="rotate(-15 252.3 130.75)" fill="#22b04c" stroke="none" stroke-width="0"/>
<ellipse cx="252.2" cy="130.4" rx="3.86" ry="3.34" transform="rotate(-15 252.2 130.4)" fill="#a6d434" stroke="none" stroke-width="0"/>
<ellipse cx="252.2" cy="130.4" rx="2.21" ry="1.98" transform="rotate(-15 252.2 130.4)" fill="#f4f080" stroke="none" stroke-width="0"/>
<rect x="232.5" y="56.4" width="76" height="50.7" fill="none" stroke="#78b872" stroke-width="1"/>
<rect x="259.4" y="108" width="48.6" height="24.7" fill="none" stroke="#a49cc4" stroke-width="0.9"/>
<rect x="226.4" y="119.6" width="35.8" height="29.4" fill="none" stroke="#cf8fb0" stroke-width="0.9"/>
<text x="311.8" y="66" font-size="9.2" fill="#5a9452" stroke="#5a9452" text-anchor="start" style="stroke-width:0.05px">S</text>
<text x="311.8" y="78.3" font-size="9.2" fill="#5a9452" stroke="#5a9452" text-anchor="start" textLength="31.6" lengthAdjust="spacingAndGlyphs" style="stroke-width:0.05px">55.23%</text>
<text x="311.8" y="130.8" font-size="9.2" fill="#a85c9c" stroke="#a85c9c" text-anchor="start" style="stroke-width:0.05px">G2</text>
<text x="311.8" y="142.2" font-size="9.2" fill="#a85c9c" stroke="#a85c9c" text-anchor="start" textLength="31.4" lengthAdjust="spacingAndGlyphs" style="stroke-width:0.05px">18.77%</text>
<text x="220.8" y="157.9" font-size="9.2" fill="#633a6e" stroke="#633a6e" text-anchor="start" textLength="28.4" lengthAdjust="spacingAndGlyphs" style="stroke-width:0.05px">G0/G1</text>
<text x="220.8" y="169.4" font-size="9.2" fill="#633a6e" stroke="#633a6e" text-anchor="start" textLength="31.5" lengthAdjust="spacingAndGlyphs" style="stroke-width:0.05px">21.45%</text>
<text x="267" y="44.7" font-size="12.8" fill="#231f20" stroke="#231f20" text-anchor="middle" textLength="68.8" lengthAdjust="spacingAndGlyphs" >HEXIM1 OE</text>
</g>
<g>
<line x1="369.2" y1="53" x2="369.2" y2="185.6" stroke="#2e3560" stroke-width="1.4" />
<line x1="368.5" y1="184.9" x2="501" y2="184.9" stroke="#3a4270" stroke-width="1.4" />
<line x1="367.4" y1="62" x2="369.2" y2="62" stroke="#2e3560" stroke-width="0.9" />
<line x1="367.4" y1="76" x2="369.2" y2="76" stroke="#2e3560" stroke-width="0.9" />
<line x1="367.4" y1="84" x2="369.2" y2="84" stroke="#2e3560" stroke-width="0.9" />
<line x1="367.4" y1="92" x2="369.2" y2="92" stroke="#2e3560" stroke-width="0.9" />
<line x1="367.4" y1="100" x2="369.2" y2="100" stroke="#2e3560" stroke-width="0.9" />
<line x1="367.4" y1="118" x2="369.2" y2="118" stroke="#2e3560" stroke-width="0.9" />
<line x1="367.4" y1="128" x2="369.2" y2="128" stroke="#2e3560" stroke-width="0.9" />
<line x1="367.4" y1="136" x2="369.2" y2="136" stroke="#2e3560" stroke-width="0.9" />
<line x1="367.4" y1="150" x2="369.2" y2="150" stroke="#2e3560" stroke-width="0.9" />
<line x1="367.4" y1="170" x2="369.2" y2="170" stroke="#2e3560" stroke-width="0.9" />
<line x1="383" y1="184.9" x2="383" y2="186.7" stroke="#2e3560" stroke-width="0.9" />
<line x1="393" y1="184.9" x2="393" y2="186.7" stroke="#2e3560" stroke-width="0.9" />
<line x1="399" y1="184.9" x2="399" y2="186.7" stroke="#2e3560" stroke-width="0.9" />
<line x1="405" y1="184.9" x2="405" y2="186.7" stroke="#2e3560" stroke-width="0.9" />
<line x1="423" y1="184.9" x2="423" y2="186.7" stroke="#2e3560" stroke-width="0.9" />
<line x1="443" y1="184.9" x2="443" y2="186.7" stroke="#2e3560" stroke-width="0.9" />
<line x1="461" y1="184.9" x2="461" y2="186.7" stroke="#2e3560" stroke-width="0.9" />
<line x1="483" y1="184.9" x2="483" y2="186.7" stroke="#2e3560" stroke-width="0.9" />
<rect x="412" y="84" width="1" height="1" fill="#8c86bc"/>
<rect x="441" y="81" width="1" height="1" fill="#9098c0"/>
<rect x="405" y="59" width="1" height="1" fill="#a49dcc"/>
<rect x="413" y="69" width="1" height="1" fill="#a49dcc"/>
<rect x="425" y="84" width="1" height="1" fill="#a49dcc"/>
<rect x="429" y="65" width="1" height="1" fill="#aca6d0"/>
<rect x="471" y="83" width="1" height="1" fill="#9a94c4"/>
<rect x="468" y="61" width="1" height="1" fill="#9098c0"/>
<rect x="456" y="95" width="1" height="1" fill="#8c86bc"/>
<rect x="464" y="93" width="1" height="1" fill="#a49dcc"/>
<rect x="469" y="102" width="1" height="1" fill="#a49dcc"/>
<rect x="469" y="86" width="1" height="1" fill="#aca6d0"/>
<rect x="472" y="63" width="1" height="1" fill="#aca6d0"/>
<rect x="464" y="70" width="1" height="1" fill="#a49dcc"/>
<rect x="470" y="99" width="1" height="1" fill="#a49dcc"/>
<rect x="465" y="77" width="1" height="1" fill="#8c86bc"/>
<rect x="465" y="78" width="1" height="1" fill="#aca6d0"/>
<rect x="472" y="91" width="1" height="1" fill="#9a94c4"/>
<rect x="471" y="106" width="1" height="1" fill="#aca6d0"/>
<rect x="468" y="74" width="1" height="1" fill="#9098c0"/>
<rect x="472" y="85" width="1" height="1" fill="#aca6d0"/>
<rect x="467" y="105" width="1" height="1" fill="#8c86bc"/>
<rect x="460" y="61" width="1" height="1" fill="#a49dcc"/>
<rect x="457" y="96" width="1" height="1" fill="#a49dcc"/>
<rect x="472" y="59" width="1" height="1" fill="#a49dcc"/>
<rect x="470" y="100" width="1" height="1" fill="#9a94c4"/>
<rect x="466" y="95" width="1" height="1" fill="#a49dcc"/>
<rect x="469" y="74" width="1" height="1" fill="#8c86bc"/>
<rect x="465" y="106" width="1" height="1" fill="#8c86bc"/>
<rect x="455" y="63" width="1" height="1" fill="#9098c0"/>
<rect x="456" y="67" width="1" height="1" fill="#a49dcc"/>
<rect x="461" y="71" width="1" height="1" fill="#9a94c4"/>
<rect x="474" y="74" width="1" height="1" fill="#8c86bc"/>
<rect x="473" y="101" width="1" height="1" fill="#a49dcc"/>
<rect x="462" y="100" width="1" height="1" fill="#a49dcc"/>
<rect x="467" y="87" width="1" height="1" fill="#9098c0"/>
<rect x="451" y="131" width="1" height="1" fill="#9098c0"/>
<rect x="455" y="123" width="1" height="1" fill="#aca6d0"/>
<rect x="472" y="118" width="1" height="1" fill="#8c86bc"/>
<rect x="462" y="121" width="1" height="1" fill="#9a94c4"/>
<rect x="468" y="132" width="1" height="1" fill="#8c86bc"/>
<rect x="449" y="123" width="1" height="1" fill="#aca6d0"/>
<rect x="450" y="123" width="1" height="1" fill="#a49dcc"/>
<rect x="457" y="130" width="1" height="1" fill="#9098c0"/>
<rect x="466" y="126" width="1" height="1" fill="#9a94c4"/>
<rect x="463" y="131" width="1" height="1" fill="#9a94c4"/>
<rect x="473" y="114" width="1" height="1" fill="#a49dcc"/>
<rect x="456" y="122" width="1" height="1" fill="#aca6d0"/>
<rect x="457" y="116" width="1" height="1" fill="#8c86bc"/>
<rect x="470" y="114" width="1" height="1" fill="#a49dcc"/>
<rect x="451" y="128" width="1" height="1" fill="#9098c0"/>
<rect x="466" y="111" width="1" height="1" fill="#9098c0"/>
<rect x="454" y="127" width="1" height="1" fill="#aca6d0"/>
<rect x="457" y="124" width="1" height="1" fill="#9a94c4"/>
<rect x="451" y="116" width="1" height="1" fill="#8c86bc"/>
<rect x="466" y="113" width="1" height="1" fill="#aca6d0"/>
<rect x="450" y="126" width="1" height="1" fill="#aca6d0"/>
<rect x="471" y="119" width="1" height="1" fill="#aca6d0"/>
<rect x="468" y="109" width="1" height="1" fill="#aca6d0"/>
<rect x="456" y="128" width="1" height="1" fill="#9098c0"/>
<rect x="453" y="115" width="1" height="1" fill="#9a94c4"/>
<rect x="469" y="116" width="1" height="1" fill="#aca6d0"/>
<rect x="459" y="120" width="1" height="1" fill="#8c86bc"/>
<rect x="460" y="123" width="1" height="1" fill="#8c86bc"/>
<rect x="459" y="118" width="1" height="1" fill="#a49dcc"/>
<rect x="452" y="108" width="1" height="1" fill="#9098c0"/>
<rect x="474" y="118" width="1" height="1" fill="#aca6d0"/>
<rect x="449" y="119" width="1" height="1" fill="#9098c0"/>
<rect x="473" y="121" width="1" height="1" fill="#aca6d0"/>
<rect x="470" y="129" width="1" height="1" fill="#8c86bc"/>
<rect x="451" y="114" width="1" height="1" fill="#9a94c4"/>
<rect x="471" y="125" width="1" height="1" fill="#aca6d0"/>
<rect x="471" y="130" width="1" height="1" fill="#9098c0"/>
<rect x="449" y="120" width="1" height="1" fill="#9a94c4"/>
<rect x="452" y="115" width="1" height="1" fill="#9a94c4"/>
<rect x="462" y="118" width="1" height="1" fill="#9098c0"/>
<rect x="451" y="111" width="1" height="1" fill="#9098c0"/>
<rect x="460" y="127" width="1" height="1" fill="#8c86bc"/>
<rect x="439" y="133" width="1" height="1" fill="#9a94c4"/>
<rect x="437" y="138" width="1" height="1" fill="#aca6d0"/>
<rect x="463" y="132" width="1" height="1" fill="#9098c0"/>
<rect x="465" y="132" width="1" height="1" fill="#8c86bc"/>
<rect x="440" y="137" width="1" height="1" fill="#9098c0"/>
<rect x="447" y="136" width="1" height="1" fill="#9a94c4"/>
<rect x="464" y="138" width="1" height="1" fill="#9a94c4"/>
<rect x="435" y="133" width="1" height="1" fill="#9a94c4"/>
<rect x="423" y="139" width="1" height="1" fill="#9098c0"/>
<rect x="411" y="140" width="1" height="1" fill="#9a94c4"/>
<rect x="406" y="144" width="1" height="1" fill="#9098c0"/>
<rect x="404" y="141" width="1" height="1" fill="#8c86bc"/>
<rect x="409" y="139" width="1" height="1" fill="#9a94c4"/>
<rect x="418" y="142" width="1" height="1" fill="#9a94c4"/>
<rect x="413" y="138" width="1" height="1" fill="#a49dcc"/>
<rect x="415" y="146" width="1" height="1" fill="#a49dcc"/>
<rect x="416" y="138" width="1" height="1" fill="#a49dcc"/>
<rect x="396" y="144" width="1" height="1" fill="#8c86bc"/>
<rect x="380" y="145" width="1" height="1" fill="#a49dcc"/>
<rect x="371" y="133" width="1" height="1" fill="#8c86bc"/>
<rect x="386" y="130" width="1" height="1" fill="#a49dcc"/>
<rect x="376" y="131" width="1" height="1" fill="#9a94c4"/>
<rect x="392" y="137" width="1" height="1" fill="#9098c0"/>
<rect x="388" y="134" width="1" height="1" fill="#a49dcc"/>
<rect x="386" y="151" width="1" height="1" fill="#9098c0"/>
<rect x="388" y="144" width="1" height="1" fill="#8c86bc"/>
<rect x="383" y="130" width="1" height="1" fill="#9098c0"/>
<rect x="387" y="139" width="1" height="1" fill="#aca6d0"/>
<rect x="388" y="129" width="1" height="1" fill="#9a94c4"/>
<rect x="383" y="144" width="1" height="1" fill="#a49dcc"/>
<rect x="375" y="129" width="1" height="1" fill="#9a94c4"/>
<rect x="372" y="131" width="1" height="1" fill="#a49dcc"/>
<rect x="389" y="151" width="1" height="1" fill="#9098c0"/>
<rect x="378" y="130" width="1" height="1" fill="#9098c0"/>
<rect x="382" y="145" width="1" height="1" fill="#9a94c4"/>
<rect x="383" y="130" width="1" height="1" fill="#9098c0"/>
<rect x="372" y="136" width="1" height="1" fill="#9098c0"/>
<rect x="375" y="130" width="1" height="1" fill="#aca6d0"/>
<rect x="385" y="139" width="1" height="1" fill="#a49dcc"/>
<rect x="377" y="142" width="1" height="1" fill="#8c86bc"/>
<rect x="383" y="151" width="1" height="1" fill="#a49dcc"/>
<rect x="382" y="151" width="1" height="1" fill="#a49dcc"/>
<rect x="481" y="100" width="1" height="1" fill="#a49dcc"/>
<rect x="480" y="97" width="1" height="1" fill="#9098c0"/>
<path d="M429.95 89.52 L425.95 89.39 L424.95 88.88 L423.29 86.75 L423.25 85 L426.68 76 L429.3 72 L431.95 69.43 L435.2 67.13 L439.95 64.66 L444.45 62.96 L448.7 61.98 L455.45 61.99 L458.7 63.37 L459.58 64.25 L460.46 66 L460.51 68.5 L458.83 72.25 L454.95 76.41 L447.7 81.82 L443.95 86.36 L440.2 88.14 L429.95 89.52Z" fill="none" stroke="#44289a" stroke-width="0.85" stroke-linejoin="round"/>
<path d="M440.2 126.3 L430.99 126 L428.33 124 L427.68 122.5 L428.24 121.5 L428.66 118.5 L430.95 115.59 L433.7 113.88 L435.95 113.17 L442.2 112.94 L446.45 114.31 L450.75 117.5 L450.39 121.5 L448.21 124.25 L440.2 126.3Z" fill="none" stroke="#44289a" stroke-width="0.85" stroke-linejoin="round"/>
<path d="M418.7 139.51 L414.2 139.26 L410.7 137.63 L409.32 136.25 L408.19 134 L408.18 129.75 L410.05 126.5 L414.45 123.31 L417.45 122.53 L420.95 122.64 L424.95 123.68 L426.13 123.5 L428.07 125.25 L429.06 127.5 L428.57 128.25 L427.72 133.25 L426.08 135.75 L424.2 137.38 L420.95 139.01 L418.7 139.51Z" fill="none" stroke="#44289a" stroke-width="0.85" stroke-linejoin="round"/>
<path d="M425.95 97.32 L423.2 97.06 L420.89 95.25 L420.14 93.75 L420.16 91 L422.77 82 L425.72 75.5 L428.6 71.25 L431.45 68.55 L434.7 66.35 L444.2 62.19 L448.7 61.15 L453.45 60.89 L456.7 61.48 L459.2 62.75 L460.37 64 L461.29 66 L461.29 68.75 L460.37 71.25 L458.7 73.76 L455.52 77 L448.7 82.7 L442.2 92.06 L439.45 92.99 L437.2 93.15 L436.45 92.92 L435.7 91.7 L434.2 91.7 L431.7 93.1 L427.7 96.61 L425.95 97.32Z" fill="none" stroke="#4c30a4" stroke-width="0.85" stroke-linejoin="round"/>
<path d="M418.95 140.27 L415.45 140.34 L411.2 138.92 L408.7 136.75 L407.43 134.25 L407.11 131 L408.51 127.25 L410.1 125.25 L413.7 122.49 L417.45 121.45 L425.95 122.41 L426.98 121.5 L428.24 117.5 L430.36 115 L433.2 113.01 L437.2 112.07 L442.45 112.15 L445.7 113.04 L452.45 117.4 L453.96 119 L454.27 120.75 L453.7 122.02 L451.7 123.8 L449.7 124.65 L440.2 127.12 L432.7 126.73 L430.7 127.34 L429.45 129.14 L428.38 133.75 L426.7 136.25 L423.2 138.92 L418.95 140.27Z" fill="none" stroke="#4c30a4" stroke-width="0.85" stroke-linejoin="round"/>
<path d="M417.95 115.85 L415.7 115.53 L414.44 113.75 L414.88 106.75 L416.05 99 L417.83 91.75 L420.63 83.25 L424.29 75.5 L426.71 71.75 L430.45 67.91 L433.95 65.6 L443.95 61.4 L448.7 60.34 L453.45 60.09 L456.95 60.71 L459.7 62.12 L461 63.5 L462.1 66 L462.06 69 L461.01 71.75 L459.2 74.42 L450.2 83.16 L442.74 94.25 L438.2 102.53 L436.2 103.12 L434.57 102.5 L434.31 96.25 L433.45 95.44 L431.81 96 L428.98 98.5 L425.83 102.5 L422.7 107.67 L419.45 114.58 L417.95 115.85Z" fill="none" stroke="#5638ac" stroke-width="0.85" stroke-linejoin="round"/>
<path d="M419.2 141.03 L415.2 141.11 L410.7 139.55 L407.95 137.08 L406.34 133.25 L406.58 129.5 L407.84 126.75 L414.45 119.8 L416.95 118.69 L417.95 118.96 L419.56 120.5 L423.95 121.5 L425.2 121.4 L426.23 120.5 L427.56 117 L429.7 114.41 L432.7 111.67 L435.45 110.74 L442.45 111.33 L445.95 112.27 L452.95 116.74 L454.61 118.5 L455.07 120.75 L454.48 122.25 L451.45 124.84 L441.7 127.69 L433.2 127.68 L431.27 128.25 L430.24 129.75 L429.15 134 L427.2 136.9 L423.45 139.69 L419.2 141.03Z" fill="none" stroke="#5638ac" stroke-width="0.85" stroke-linejoin="round"/>
<path d="M419.45 141.8 L413.7 141.62 L409.2 139.5 L406.24 135.75 L405.48 131.25 L405.87 129 L407.16 126.25 L411.75 120.25 L412.89 106.5 L414.11 98.5 L416.36 89.75 L419.81 80.75 L422.99 74.75 L426.34 70 L429.7 66.81 L433.2 64.67 L438.7 62.27 L445.7 60.06 L450.95 59.28 L453.95 59.32 L457.45 60.05 L460.45 61.72 L462.65 65 L462.9 68.75 L462.16 71.25 L459.95 74.8 L452.67 82.25 L449.09 88.25 L444.15 95 L439.85 102.75 L437.39 108.75 L437.55 109.5 L438.45 110.09 L442.7 110.54 L446.45 111.62 L453.45 116.08 L455.74 119 L455.63 121.75 L454.77 123.25 L452.7 125.07 L447.2 127.23 L440.45 128.71 L434.7 128.59 L431.95 129.06 L431.17 130 L429.8 134.5 L427.73 137.5 L423.95 140.33 L419.45 141.8Z" fill="none" stroke="#6244b4" stroke-width="0.85" stroke-linejoin="round"/>
<path d="M424.52 120.25 L425.45 119.42 L427.47 115.5 L430.36 112.25 L431.5 110.25 L432.34 103 L432.16 101.25 L431.45 100.4 L429.45 101.52 L426.67 105 L423.7 110.16 L421.08 116.25 L420.68 118.25 L420.95 119 L422.45 120.01 L424.52 120.25Z" fill="none" stroke="#6244b4" stroke-width="0.85" stroke-linejoin="round"/>
<path d="M418.45 142.75 L415.2 142.72 L412.45 142.13 L408.95 140.32 L405.98 137 L404.68 132.75 L405.27 128.25 L409.81 120.25 L410.91 106.25 L412.33 97.25 L414.58 88.75 L417.84 80.5 L421.1 74.5 L424.04 70.25 L427.2 66.8 L430.7 64.35 L435.95 62.08 L445.7 59.2 L453.45 58.48 L457.95 59.39 L460.95 61.09 L462.27 62.5 L463.42 64.75 L463.7 68.75 L462.93 71.5 L460.64 75.25 L454.77 81.75 L450.59 89.25 L444.43 97.5 L440.7 104.34 L439.35 108 L440.26 109.25 L444.45 110.06 L447.95 111.44 L453.95 115.44 L456.5 118.75 L456.39 122 L453.95 125.18 L449.2 127.44 L440.7 129.49 L434.45 129.47 L432.7 129.89 L431.92 130.75 L430.18 135.5 L427.6 138.75 L423.7 141.36 L418.45 142.75Z" fill="none" stroke="#6e50bc" stroke-width="0.85" stroke-linejoin="round"/>
<path d="M424.26 118 L429.36 110.75 L429.78 108.75 L429.2 107.05 L427.45 108.34 L424.93 112.75 L423.45 117 L423.7 117.96 L424.26 118Z" fill="none" stroke="#6e50bc" stroke-width="0.85" stroke-linejoin="round"/>
<ellipse cx="443.7" cy="72.9" rx="18" ry="8.8" transform="rotate(-25 443.7 72.9)" fill="#4e3cb0" stroke="none" stroke-width="0"/>
<ellipse cx="443.7" cy="72.9" rx="17.4" ry="8.2" transform="rotate(-25 443.7 72.9)" fill="#1f1f86" stroke="none" stroke-width="0"/>
<ellipse cx="443.4" cy="73.12" rx="15.14" ry="6.97" transform="rotate(-25 443.4 73.12)" fill="#2a4fcc" stroke="none" stroke-width="0"/>
<ellipse cx="433.7" cy="80" rx="9.5" ry="4.8" transform="rotate(-40 433.7 80)" fill="#8cc6ee" stroke="none" stroke-width="0"/>
<ellipse cx="434.85" cy="79.18" rx="6.65" ry="2.88" transform="rotate(-40 434.85 79.18)" fill="#c8e6f8" stroke="none" stroke-width="0"/>
<ellipse cx="442.8" cy="73.56" rx="14.44" ry="6.64" transform="rotate(-25 442.8 73.56)" fill="#4aa6e6" stroke="none" stroke-width="0"/>
<ellipse cx="442.5" cy="73.78" rx="13.75" ry="6.31" transform="rotate(-25 442.5 73.78)" fill="#3fcbe6" stroke="none" stroke-width="0"/>
<ellipse cx="444.45" cy="72.35" rx="11.83" ry="5.66" transform="rotate(-25 444.45 72.35)" fill="#22b04c" stroke="none" stroke-width="0"/>
<ellipse cx="445.2" cy="71.8" rx="9.57" ry="4.59" transform="rotate(-25 445.2 71.8)" fill="#a6d434" stroke="none" stroke-width="0"/>
<ellipse cx="445.2" cy="71.8" rx="8.35" ry="4.1" transform="rotate(-25 445.2 71.8)" fill="#f1e424" stroke="none" stroke-width="0"/>
<ellipse cx="445.2" cy="71.8" rx="6.79" ry="3.36" transform="rotate(-25 445.2 71.8)" fill="#f39222" stroke="none" stroke-width="0"/>
<ellipse cx="445.2" cy="71.8" rx="5.22" ry="2.71" transform="rotate(-25 445.2 71.8)" fill="#e8281c" stroke="none" stroke-width="0"/>
<ellipse cx="445.2" cy="71.8" rx="1.74" ry="1.23" transform="rotate(-25 445.2 71.8)" fill="#ffd6d0" stroke="none" stroke-width="0"/>
<ellipse cx="438.9" cy="119.6" rx="10.4" ry="6.6" transform="rotate(-6 438.9 119.6)" fill="#4e3cb0" stroke="none" stroke-width="0"/>
<ellipse cx="438.9" cy="119.6" rx="9.8" ry="6" transform="rotate(-6 438.9 119.6)" fill="#1f1f86" stroke="none" stroke-width="0"/>
<ellipse cx="438.9" cy="119.6" rx="8.43" ry="5.04" transform="rotate(-6 438.9 119.6)" fill="#2a4fcc" stroke="none" stroke-width="0"/>
<ellipse cx="438.9" cy="119.6" rx="7.45" ry="4.44" transform="rotate(-6 438.9 119.6)" fill="#4aa6e6" stroke="none" stroke-width="0"/>
<ellipse cx="438.9" cy="119.6" rx="5.88" ry="3.6" transform="rotate(-6 438.9 119.6)" fill="#3fcbe6" stroke="none" stroke-width="0"/>
<ellipse cx="438.9" cy="119.6" rx="3.33" ry="2.16" transform="rotate(-6 438.9 119.6)" fill="#9ae8e8" stroke="none" stroke-width="0"/>
<ellipse cx="438.9" cy="119.6" rx="1.37" ry="0.96" transform="rotate(-6 438.9 119.6)" fill="#f0fff8" stroke="none" stroke-width="0"/>
<ellipse cx="418.1" cy="131.1" rx="10.2" ry="8.2" transform="rotate(-15 418.1 131.1)" fill="#4e3cb0" stroke="none" stroke-width="0"/>
<ellipse cx="418.1" cy="131.1" rx="9.6" ry="7.6" transform="rotate(-15 418.1 131.1)" fill="#1f1f86" stroke="none" stroke-width="0"/>
<ellipse cx="418.14" cy="131.24" rx="8.26" ry="6.54" transform="rotate(-15 418.14 131.24)" fill="#2a4fcc" stroke="none" stroke-width="0"/>
<ellipse cx="418.26" cy="131.66" rx="7.49" ry="5.93" transform="rotate(-15 418.26 131.66)" fill="#3fcbe6" stroke="none" stroke-width="0"/>
<ellipse cx="418" cy="130.75" rx="6.53" ry="5.32" transform="rotate(-15 418 130.75)" fill="#22b04c" stroke="none" stroke-width="0"/>
<ellipse cx="417.9" cy="130.4" rx="4.61" ry="3.8" transform="rotate(-15 417.9 130.4)" fill="#a6d434" stroke="none" stroke-width="0"/>
<ellipse cx="417.9" cy="130.4" rx="3.46" ry="2.89" transform="rotate(-15 417.9 130.4)" fill="#f1e424" stroke="none" stroke-width="0"/>
<ellipse cx="417.9" cy="130.4" rx="1.34" ry="1.22" transform="rotate(-15 417.9 130.4)" fill="#f8f0a0" stroke="none" stroke-width="0"/>
<rect x="399" y="57.1" width="75.8" height="50.2" fill="none" stroke="#78b872" stroke-width="1"/>
<rect x="440.5" y="108.5" width="34.1" height="24.3" fill="none" stroke="#a49cc4" stroke-width="0.9"/>
<rect x="392.5" y="120.2" width="35.8" height="28.4" fill="none" stroke="#cf8fb0" stroke-width="0.9"/>
<text x="477.8" y="66" font-size="9.2" fill="#5a9452" stroke="#5a9452" text-anchor="start" style="stroke-width:0.05px">S</text>
<text x="477.8" y="78.3" font-size="9.2" fill="#5a9452" stroke="#5a9452" text-anchor="start" textLength="31.6" lengthAdjust="spacingAndGlyphs" style="stroke-width:0.05px">53.02%</text>
<text x="477.8" y="130.6" font-size="9.2" fill="#a85c9c" stroke="#a85c9c" text-anchor="start" style="stroke-width:0.05px">G2</text>
<text x="477.8" y="142" font-size="9.2" fill="#a85c9c" stroke="#a85c9c" text-anchor="start" textLength="31.4" lengthAdjust="spacingAndGlyphs" style="stroke-width:0.05px">16.10%</text>
<text x="391.7" y="157" font-size="9.2" fill="#633a6e" stroke="#633a6e" text-anchor="start" textLength="28.4" lengthAdjust="spacingAndGlyphs" style="stroke-width:0.05px">G0/G1</text>
<text x="391.7" y="168.5" font-size="9.2" fill="#633a6e" stroke="#633a6e" text-anchor="start" textLength="31.5" lengthAdjust="spacingAndGlyphs" style="stroke-width:0.05px">25.64%</text>
<text x="433.1" y="44.7" font-size="12.8" fill="#231f20" stroke="#231f20" text-anchor="middle" textLength="45.8" lengthAdjust="spacingAndGlyphs" >Y2A OE</text>
</g>
<rect x="86.8" y="294.6" width="16.3" height="91.9" fill="#36a931" />
<rect x="114" y="356.7" width="16.2" height="29.8" fill="#c8082c" />
<rect x="141.3" y="322" width="15.9" height="64.5" fill="#36a3dd" />
<line x1="94.95" y1="274.2" x2="94.95" y2="312.8" stroke="#231f20" stroke-width="1.4" />
<line x1="89.95" y1="274.2" x2="99.95" y2="274.2" stroke="#231f20" stroke-width="1.4" />
<line x1="89.95" y1="312.8" x2="99.95" y2="312.8" stroke="#231f20" stroke-width="1.4" />
<line x1="122" y1="333.5" x2="122" y2="377" stroke="#231f20" stroke-width="1.4" />
<line x1="117" y1="333.5" x2="127" y2="333.5" stroke="#231f20" stroke-width="1.4" />
<line x1="117" y1="377" x2="127" y2="377" stroke="#231f20" stroke-width="1.4" />
<line x1="149.2" y1="308.9" x2="149.2" y2="332.3" stroke="#231f20" stroke-width="1.4" />
<line x1="144.2" y1="308.9" x2="154.2" y2="308.9" stroke="#231f20" stroke-width="1.4" />
<line x1="144.2" y1="332.3" x2="154.2" y2="332.3" stroke="#231f20" stroke-width="1.4" />
<circle cx="90.5" cy="280.3" r="2" fill="#231f20"/>
<circle cx="98.9" cy="284.2" r="2" fill="#231f20"/>
<circle cx="94.95" cy="315.7" r="2" fill="#231f20"/>
<circle cx="122" cy="331" r="2" fill="#231f20"/>
<circle cx="122" cy="361.3" r="2" fill="#231f20"/>
<circle cx="122" cy="373.7" r="2" fill="#231f20"/>
<circle cx="145.2" cy="313.2" r="2" fill="#231f20"/>
<circle cx="153.2" cy="314.5" r="2" fill="#231f20"/>
<circle cx="149.2" cy="334.2" r="2" fill="#231f20"/>
<line x1="76.8" y1="243.5" x2="76.8" y2="387.35" stroke="#231f20" stroke-width="1.7" />
<line x1="75.95" y1="386.5" x2="167.5" y2="386.5" stroke="#231f20" stroke-width="1.7" />
<line x1="72" y1="248" x2="76.8" y2="248" stroke="#231f20" stroke-width="1.2" />
<text x="67.8" y="250.9" font-size="9.7" fill="#231f20" stroke="#231f20" text-anchor="end" textLength="10.3" lengthAdjust="spacingAndGlyphs" >35</text>
<line x1="72" y1="294.1" x2="76.8" y2="294.1" stroke="#231f20" stroke-width="1.2" />
<text x="67.8" y="297" font-size="9.7" fill="#231f20" stroke="#231f20" text-anchor="end" textLength="10.3" lengthAdjust="spacingAndGlyphs" >30</text>
<line x1="72" y1="340.2" x2="76.8" y2="340.2" stroke="#231f20" stroke-width="1.2" />
<text x="67.8" y="343.1" font-size="9.7" fill="#231f20" stroke="#231f20" text-anchor="end" textLength="10.3" lengthAdjust="spacingAndGlyphs" >25</text>
<line x1="72" y1="386.3" x2="76.8" y2="386.3" stroke="#231f20" stroke-width="1.2" />
<text x="67.8" y="389.2" font-size="9.7" fill="#231f20" stroke="#231f20" text-anchor="end" textLength="10.3" lengthAdjust="spacingAndGlyphs" >20</text>
<line x1="94.95" y1="386.5" x2="94.95" y2="391" stroke="#231f20" stroke-width="1.2" />
<text transform="translate(94.25,399.7) rotate(-45)" font-size="9.4" fill="#231f20" stroke="#231f20" text-anchor="end" textLength="10.5" lengthAdjust="spacingAndGlyphs">EV</text>
<line x1="122" y1="386.5" x2="122" y2="391" stroke="#231f20" stroke-width="1.2" />
<text transform="translate(121.3,399.7) rotate(-45)" font-size="9.4" fill="#231f20" stroke="#231f20" text-anchor="end" textLength="50" lengthAdjust="spacingAndGlyphs">HEXIM1 OE</text>
<line x1="149.2" y1="386.5" x2="149.2" y2="391" stroke="#231f20" stroke-width="1.2" />
<text transform="translate(148.5,399.7) rotate(-45)" font-size="9.4" fill="#231f20" stroke="#231f20" text-anchor="end" textLength="33.5" lengthAdjust="spacingAndGlyphs">Y2A OE</text>
<path d="M94.6 257.5 V242.2 H121.9 V297.1" fill="none" stroke="#231f20" stroke-width="1.4"/>
<text x="108.2" y="241.7" font-size="10" fill="#231f20" stroke="#231f20" text-anchor="middle" >*</text>
<path d="M121.9 226.7 V219 H149.3 V271.2" fill="none" stroke="#231f20" stroke-width="1.4"/>
<text x="135.7" y="218.7" font-size="10" fill="#231f20" stroke="#231f20" text-anchor="middle" >*</text>
<text transform="translate(47.6,314.5) rotate(-90)" font-size="9.8" fill="#231f20" stroke="#231f20" text-anchor="middle" textLength="45.5" lengthAdjust="spacingAndGlyphs">G0/G1 (%)</text>
<rect x="254.2" y="356.2" width="16.6" height="30.3" fill="#36a931" />
<rect x="281.3" y="281.2" width="16.4" height="105.3" fill="#c8082c" />
<rect x="308" y="327.4" width="16.4" height="59.1" fill="#36a3dd" />
<line x1="262.5" y1="346.1" x2="262.5" y2="364.3" stroke="#231f20" stroke-width="1.4" />
<line x1="257.5" y1="346.1" x2="267.5" y2="346.1" stroke="#231f20" stroke-width="1.4" />
<line x1="257.5" y1="364.3" x2="267.5" y2="364.3" stroke="#231f20" stroke-width="1.4" />
<line x1="289.5" y1="260" x2="289.5" y2="299.4" stroke="#231f20" stroke-width="1.4" />
<line x1="284.5" y1="260" x2="294.5" y2="260" stroke="#231f20" stroke-width="1.4" />
<line x1="284.5" y1="299.4" x2="294.5" y2="299.4" stroke="#231f20" stroke-width="1.4" />
<line x1="316.2" y1="304.3" x2="316.2" y2="348.2" stroke="#231f20" stroke-width="1.4" />
<line x1="311.2" y1="304.3" x2="321.2" y2="304.3" stroke="#231f20" stroke-width="1.4" />
<line x1="311.2" y1="348.2" x2="321.2" y2="348.2" stroke="#231f20" stroke-width="1.4" />
<circle cx="262.3" cy="344.7" r="2" fill="#231f20"/>
<circle cx="258.4" cy="362" r="2" fill="#231f20"/>
<circle cx="266.2" cy="358.8" r="2" fill="#231f20"/>
<circle cx="289.5" cy="264.6" r="2" fill="#231f20"/>
<circle cx="289.5" cy="272.3" r="2" fill="#231f20"/>
<circle cx="289.5" cy="302" r="2" fill="#231f20"/>
<circle cx="316.2" cy="301.5" r="2" fill="#231f20"/>
<circle cx="316.2" cy="331.5" r="2" fill="#231f20"/>
<circle cx="316.2" cy="345.4" r="2" fill="#231f20"/>
<line x1="244.3" y1="247.5" x2="244.3" y2="387.35" stroke="#231f20" stroke-width="1.7" />
<line x1="243.45" y1="386.5" x2="334.6" y2="386.5" stroke="#231f20" stroke-width="1.7" />
<line x1="239.5" y1="251.9" x2="244.3" y2="251.9" stroke="#231f20" stroke-width="1.2" />
<text x="235.3" y="254.8" font-size="9.7" fill="#231f20" stroke="#231f20" text-anchor="end" textLength="10.3" lengthAdjust="spacingAndGlyphs" >56</text>
<line x1="239.5" y1="285.6" x2="244.3" y2="285.6" stroke="#231f20" stroke-width="1.2" />
<text x="235.3" y="288.5" font-size="9.7" fill="#231f20" stroke="#231f20" text-anchor="end" textLength="10.3" lengthAdjust="spacingAndGlyphs" >54</text>
<line x1="239.5" y1="319.2" x2="244.3" y2="319.2" stroke="#231f20" stroke-width="1.2" />
<text x="235.3" y="322.1" font-size="9.7" fill="#231f20" stroke="#231f20" text-anchor="end" textLength="10.3" lengthAdjust="spacingAndGlyphs" >52</text>
<line x1="239.5" y1="352.8" x2="244.3" y2="352.8" stroke="#231f20" stroke-width="1.2" />
<text x="235.3" y="355.7" font-size="9.7" fill="#231f20" stroke="#231f20" text-anchor="end" textLength="10.3" lengthAdjust="spacingAndGlyphs" >50</text>
<line x1="239.5" y1="386.4" x2="244.3" y2="386.4" stroke="#231f20" stroke-width="1.2" />
<text x="235.3" y="389.3" font-size="9.7" fill="#231f20" stroke="#231f20" text-anchor="end" textLength="10.3" lengthAdjust="spacingAndGlyphs" >48</text>
<line x1="262.5" y1="386.5" x2="262.5" y2="391" stroke="#231f20" stroke-width="1.2" />
<text transform="translate(261.8,399.7) rotate(-45)" font-size="9.4" fill="#231f20" stroke="#231f20" text-anchor="end" textLength="10.5" lengthAdjust="spacingAndGlyphs">EV</text>
<line x1="289.5" y1="386.5" x2="289.5" y2="391" stroke="#231f20" stroke-width="1.2" />
<text transform="translate(288.8,399.7) rotate(-45)" font-size="9.4" fill="#231f20" stroke="#231f20" text-anchor="end" textLength="50" lengthAdjust="spacingAndGlyphs">HEXIM1 OE</text>
<line x1="316.2" y1="386.5" x2="316.2" y2="391" stroke="#231f20" stroke-width="1.2" />
<text transform="translate(315.5,399.7) rotate(-45)" font-size="9.4" fill="#231f20" stroke="#231f20" text-anchor="end" textLength="33.5" lengthAdjust="spacingAndGlyphs">Y2A OE</text>
<path d="M262.5 312.1 V247.7 H290 V255" fill="none" stroke="#231f20" stroke-width="1.4"/>
<text x="276.2" y="247.2" font-size="10" fill="#231f20" stroke="#231f20" text-anchor="middle" >**</text>
<path d="M289.5 233.3 V225.5 H316.6 V276" fill="none" stroke="#231f20" stroke-width="1.4"/>
<text x="303" y="225" font-size="10" fill="#231f20" stroke="#231f20" text-anchor="middle" >*</text>
<text transform="translate(216.5,317) rotate(-90)" font-size="12" fill="#231f20" stroke="#231f20" text-anchor="middle" textLength="22.1" lengthAdjust="spacingAndGlyphs">S (%)</text>
<rect x="420" y="329.2" width="16.2" height="57.3" fill="#36a931" />
<rect x="447.7" y="287.3" width="16.1" height="99.2" fill="#c8082c" />
<rect x="475.4" y="314.9" width="15.8" height="71.6" fill="#36a3dd" />
<line x1="428.1" y1="306.6" x2="428.1" y2="348.8" stroke="#231f20" stroke-width="1.4" />
<line x1="423.1" y1="306.6" x2="433.1" y2="306.6" stroke="#231f20" stroke-width="1.4" />
<line x1="423.1" y1="348.8" x2="433.1" y2="348.8" stroke="#231f20" stroke-width="1.4" />
<line x1="455.3" y1="261.5" x2="455.3" y2="310.8" stroke="#231f20" stroke-width="1.4" />
<line x1="450.3" y1="261.5" x2="460.3" y2="261.5" stroke="#231f20" stroke-width="1.4" />
<line x1="450.3" y1="310.8" x2="460.3" y2="310.8" stroke="#231f20" stroke-width="1.4" />
<line x1="483" y1="305.7" x2="483" y2="321.2" stroke="#231f20" stroke-width="1.4" />
<line x1="478" y1="305.7" x2="488" y2="305.7" stroke="#231f20" stroke-width="1.4" />
<line x1="478" y1="321.2" x2="488" y2="321.2" stroke="#231f20" stroke-width="1.4" />
<circle cx="428.1" cy="303.8" r="2" fill="#231f20"/>
<circle cx="428.1" cy="334.5" r="2" fill="#231f20"/>
<circle cx="428.1" cy="344.2" r="2" fill="#231f20"/>
<circle cx="455.3" cy="270" r="2" fill="#231f20"/>
<circle cx="455.3" cy="273.9" r="2" fill="#231f20"/>
<circle cx="455.3" cy="313.8" r="2" fill="#231f20"/>
<circle cx="483" cy="304.3" r="2" fill="#231f20"/>
<circle cx="479.3" cy="319.5" r="2" fill="#231f20"/>
<circle cx="487.6" cy="316.1" r="2" fill="#231f20"/>
<line x1="410.1" y1="244.6" x2="410.1" y2="387.35" stroke="#231f20" stroke-width="1.7" />
<line x1="409.25" y1="386.5" x2="501.5" y2="386.5" stroke="#231f20" stroke-width="1.7" />
<line x1="405.3" y1="248.3" x2="410.1" y2="248.3" stroke="#231f20" stroke-width="1.2" />
<text x="401.1" y="251.2" font-size="9.7" fill="#231f20" stroke="#231f20" text-anchor="end" textLength="10.3" lengthAdjust="spacingAndGlyphs" >20</text>
<line x1="405.3" y1="283" x2="410.1" y2="283" stroke="#231f20" stroke-width="1.2" />
<text x="401.1" y="285.9" font-size="9.7" fill="#231f20" stroke="#231f20" text-anchor="end" textLength="10.3" lengthAdjust="spacingAndGlyphs" >18</text>
<line x1="405.3" y1="317.5" x2="410.1" y2="317.5" stroke="#231f20" stroke-width="1.2" />
<text x="401.1" y="320.4" font-size="9.7" fill="#231f20" stroke="#231f20" text-anchor="end" textLength="10.3" lengthAdjust="spacingAndGlyphs" >16</text>
<line x1="405.3" y1="352" x2="410.1" y2="352" stroke="#231f20" stroke-width="1.2" />
<text x="401.1" y="354.9" font-size="9.7" fill="#231f20" stroke="#231f20" text-anchor="end" textLength="10.3" lengthAdjust="spacingAndGlyphs" >14</text>
<line x1="405.3" y1="386.5" x2="410.1" y2="386.5" stroke="#231f20" stroke-width="1.2" />
<text x="401.1" y="389.4" font-size="9.7" fill="#231f20" stroke="#231f20" text-anchor="end" textLength="10.3" lengthAdjust="spacingAndGlyphs" >12</text>
<line x1="428.1" y1="386.5" x2="428.1" y2="391" stroke="#231f20" stroke-width="1.2" />
<text transform="translate(427.4,399.7) rotate(-45)" font-size="9.4" fill="#231f20" stroke="#231f20" text-anchor="end" textLength="10.5" lengthAdjust="spacingAndGlyphs">EV</text>
<line x1="455.3" y1="386.5" x2="455.3" y2="391" stroke="#231f20" stroke-width="1.2" />
<text transform="translate(454.6,399.7) rotate(-45)" font-size="9.4" fill="#231f20" stroke="#231f20" text-anchor="end" textLength="50" lengthAdjust="spacingAndGlyphs">HEXIM1 OE</text>
<line x1="483" y1="386.5" x2="483" y2="391" stroke="#231f20" stroke-width="1.2" />
<text transform="translate(482.3,399.7) rotate(-45)" font-size="9.4" fill="#231f20" stroke="#231f20" text-anchor="end" textLength="33.5" lengthAdjust="spacingAndGlyphs">Y2A OE</text>
<path d="M427.9 285.2 V248.7 H455 V256.6" fill="none" stroke="#231f20" stroke-width="1.4"/>
<text x="441.7" y="245.8" font-size="9" fill="#231f20" stroke="#231f20" text-anchor="middle" >ns</text>
<path d="M455 233.3 V224.3 H483.2 V247.7" fill="none" stroke="#231f20" stroke-width="1.4"/>
<text x="469.5" y="221.5" font-size="9" fill="#231f20" stroke="#231f20" text-anchor="middle" >ns</text>
<text transform="translate(381.3,315.4) rotate(-90)" font-size="12.3" fill="#231f20" stroke="#231f20" text-anchor="middle" textLength="30.2" lengthAdjust="spacingAndGlyphs">G2 (%)</text>
<rect x="87.4" y="519.9" width="16.8" height="115.8" fill="#36a931" />
<rect x="116" y="564.1" width="17.3" height="71.6" fill="#c8082c" />
<rect x="144.6" y="526.5" width="17.3" height="109.2" fill="#36a3dd" />
<line x1="95.8" y1="510" x2="95.8" y2="526.9" stroke="#231f20" stroke-width="1.4" />
<line x1="90.8" y1="510" x2="100.8" y2="510" stroke="#231f20" stroke-width="1.4" />
<line x1="90.8" y1="526.9" x2="100.8" y2="526.9" stroke="#231f20" stroke-width="1.4" />
<line x1="124.5" y1="556.5" x2="124.5" y2="568.5" stroke="#231f20" stroke-width="1.4" />
<line x1="119.5" y1="556.5" x2="129.5" y2="556.5" stroke="#231f20" stroke-width="1.4" />
<line x1="119.5" y1="568.5" x2="129.5" y2="568.5" stroke="#231f20" stroke-width="1.4" />
<line x1="153.2" y1="523.6" x2="153.2" y2="528.5" stroke="#231f20" stroke-width="1.4" />
<line x1="148.2" y1="523.6" x2="158.2" y2="523.6" stroke="#231f20" stroke-width="1.4" />
<line x1="148.2" y1="528.5" x2="158.2" y2="528.5" stroke="#231f20" stroke-width="1.4" />
<circle cx="96" cy="508.4" r="2" fill="#231f20"/>
<circle cx="91.5" cy="525" r="2" fill="#231f20"/>
<circle cx="100.3" cy="522" r="2" fill="#231f20"/>
<circle cx="124.4" cy="554.4" r="2" fill="#231f20"/>
<circle cx="120.6" cy="567.4" r="2" fill="#231f20"/>
<circle cx="127.9" cy="566.5" r="2" fill="#231f20"/>
<circle cx="149.2" cy="523.3" r="2" fill="#231f20"/>
<circle cx="149.2" cy="527.9" r="2" fill="#231f20"/>
<circle cx="156.7" cy="525" r="2" fill="#231f20"/>
<line x1="76.5" y1="487.4" x2="76.5" y2="636.55" stroke="#231f20" stroke-width="1.7" />
<line x1="75.65" y1="635.7" x2="172.3" y2="635.7" stroke="#231f20" stroke-width="1.7" />
<line x1="71.7" y1="492.2" x2="76.5" y2="492.2" stroke="#231f20" stroke-width="1.2" />
<text x="67.5" y="495.1" font-size="9.7" fill="#231f20" stroke="#231f20" text-anchor="end" textLength="10.3" lengthAdjust="spacingAndGlyphs" >90</text>
<line x1="71.7" y1="520.8" x2="76.5" y2="520.8" stroke="#231f20" stroke-width="1.2" />
<text x="67.5" y="523.7" font-size="9.7" fill="#231f20" stroke="#231f20" text-anchor="end" textLength="10.3" lengthAdjust="spacingAndGlyphs" >80</text>
<line x1="71.7" y1="549.4" x2="76.5" y2="549.4" stroke="#231f20" stroke-width="1.2" />
<text x="67.5" y="552.3" font-size="9.7" fill="#231f20" stroke="#231f20" text-anchor="end" textLength="10.3" lengthAdjust="spacingAndGlyphs" >70</text>
<line x1="71.7" y1="578" x2="76.5" y2="578" stroke="#231f20" stroke-width="1.2" />
<text x="67.5" y="580.9" font-size="9.7" fill="#231f20" stroke="#231f20" text-anchor="end" textLength="10.3" lengthAdjust="spacingAndGlyphs" >60</text>
<line x1="71.7" y1="606.6" x2="76.5" y2="606.6" stroke="#231f20" stroke-width="1.2" />
<text x="67.5" y="609.5" font-size="9.7" fill="#231f20" stroke="#231f20" text-anchor="end" textLength="10.3" lengthAdjust="spacingAndGlyphs" >50</text>
<line x1="71.7" y1="635.3" x2="76.5" y2="635.3" stroke="#231f20" stroke-width="1.2" />
<text x="67.5" y="638.2" font-size="9.7" fill="#231f20" stroke="#231f20" text-anchor="end" textLength="10.3" lengthAdjust="spacingAndGlyphs" >40</text>
<line x1="95.8" y1="635.7" x2="95.8" y2="640.2" stroke="#231f20" stroke-width="1.2" />
<text transform="translate(95.1,648.9) rotate(-45)" font-size="9.4" fill="#231f20" stroke="#231f20" text-anchor="end" textLength="10.5" lengthAdjust="spacingAndGlyphs">EV</text>
<line x1="124.5" y1="635.7" x2="124.5" y2="640.2" stroke="#231f20" stroke-width="1.2" />
<text transform="translate(123.8,648.9) rotate(-45)" font-size="9.4" fill="#231f20" stroke="#231f20" text-anchor="end" textLength="50" lengthAdjust="spacingAndGlyphs">HEXIM1 OE</text>
<line x1="153.3" y1="635.7" x2="153.3" y2="640.2" stroke="#231f20" stroke-width="1.2" />
<text transform="translate(152.6,648.9) rotate(-45)" font-size="9.4" fill="#231f20" stroke="#231f20" text-anchor="end" textLength="33.5" lengthAdjust="spacingAndGlyphs">Y2A OE</text>
<path d="M95.7 499.8 V492.9 H124.6 V522.8" fill="none" stroke="#231f20" stroke-width="1.4"/>
<text x="110.5" y="492.2" font-size="10" fill="#231f20" stroke="#231f20" text-anchor="middle" >**</text>
<path d="M124.6 477.4 V470.3 H153.4 V492.2" fill="none" stroke="#231f20" stroke-width="1.4"/>
<text x="138.9" y="469.7" font-size="10" fill="#231f20" stroke="#231f20" text-anchor="middle" >**</text>
<text transform="translate(47.6,561.2) rotate(-90)" font-size="9.8" fill="#231f20" stroke="#231f20" text-anchor="middle" textLength="45" lengthAdjust="spacingAndGlyphs">G0/G1 (%)</text>
<rect x="254.9" y="567.4" width="16.2" height="68.3" fill="#36a931" />
<rect x="282.6" y="523.8" width="16" height="111.9" fill="#c8082c" />
<rect x="310.8" y="566.2" width="16.2" height="69.5" fill="#36a3dd" />
<line x1="263" y1="557.2" x2="263" y2="575" stroke="#231f20" stroke-width="1.4" />
<line x1="258" y1="557.2" x2="268" y2="557.2" stroke="#231f20" stroke-width="1.4" />
<line x1="258" y1="575" x2="268" y2="575" stroke="#231f20" stroke-width="1.4" />
<line x1="290.7" y1="504.2" x2="290.7" y2="540.2" stroke="#231f20" stroke-width="1.4" />
<line x1="285.7" y1="504.2" x2="295.7" y2="504.2" stroke="#231f20" stroke-width="1.4" />
<line x1="285.7" y1="540.2" x2="295.7" y2="540.2" stroke="#231f20" stroke-width="1.4" />
<line x1="318.9" y1="550.8" x2="318.9" y2="579.2" stroke="#231f20" stroke-width="1.4" />
<line x1="313.9" y1="550.8" x2="323.9" y2="550.8" stroke="#231f20" stroke-width="1.4" />
<line x1="313.9" y1="579.2" x2="323.9" y2="579.2" stroke="#231f20" stroke-width="1.4" />
<circle cx="258.8" cy="558.8" r="2" fill="#231f20"/>
<circle cx="267.6" cy="562.3" r="2" fill="#231f20"/>
<circle cx="263" cy="576.6" r="2" fill="#231f20"/>
<circle cx="290.7" cy="502.6" r="2" fill="#231f20"/>
<circle cx="290.7" cy="527.3" r="2" fill="#231f20"/>
<circle cx="290.7" cy="537.9" r="2" fill="#231f20"/>
<circle cx="318.9" cy="548" r="2" fill="#231f20"/>
<circle cx="314.2" cy="573.4" r="2" fill="#231f20"/>
<circle cx="323" cy="572.7" r="2" fill="#231f20"/>
<line x1="244.3" y1="492" x2="244.3" y2="636.55" stroke="#231f20" stroke-width="1.7" />
<line x1="243.45" y1="635.7" x2="337.8" y2="635.7" stroke="#231f20" stroke-width="1.7" />
<line x1="239.5" y1="496.2" x2="244.3" y2="496.2" stroke="#231f20" stroke-width="1.2" />
<text x="235.3" y="499.1" font-size="9.7" fill="#231f20" stroke="#231f20" text-anchor="end" textLength="10.3" lengthAdjust="spacingAndGlyphs" >20</text>
<line x1="239.5" y1="530.9" x2="244.3" y2="530.9" stroke="#231f20" stroke-width="1.2" />
<text x="235.3" y="533.8" font-size="9.7" fill="#231f20" stroke="#231f20" text-anchor="end" textLength="10.3" lengthAdjust="spacingAndGlyphs" >15</text>
<line x1="239.5" y1="565.8" x2="244.3" y2="565.8" stroke="#231f20" stroke-width="1.2" />
<text x="235.3" y="568.7" font-size="9.7" fill="#231f20" stroke="#231f20" text-anchor="end" textLength="10.3" lengthAdjust="spacingAndGlyphs" >10</text>
<line x1="239.5" y1="600.8" x2="244.3" y2="600.8" stroke="#231f20" stroke-width="1.2" />
<text x="235.3" y="603.7" font-size="9.7" fill="#231f20" stroke="#231f20" text-anchor="end" textLength="5.15" lengthAdjust="spacingAndGlyphs" >5</text>
<line x1="239.5" y1="635.7" x2="244.3" y2="635.7" stroke="#231f20" stroke-width="1.2" />
<text x="235.3" y="638.6" font-size="9.7" fill="#231f20" stroke="#231f20" text-anchor="end" textLength="5.15" lengthAdjust="spacingAndGlyphs" >0</text>
<line x1="263" y1="635.7" x2="263" y2="640.2" stroke="#231f20" stroke-width="1.2" />
<text transform="translate(262.3,648.9) rotate(-45)" font-size="9.4" fill="#231f20" stroke="#231f20" text-anchor="end" textLength="10.5" lengthAdjust="spacingAndGlyphs">EV</text>
<line x1="290.7" y1="635.7" x2="290.7" y2="640.2" stroke="#231f20" stroke-width="1.2" />
<text transform="translate(290,648.9) rotate(-45)" font-size="9.4" fill="#231f20" stroke="#231f20" text-anchor="end" textLength="50" lengthAdjust="spacingAndGlyphs">HEXIM1 OE</text>
<line x1="318.9" y1="635.7" x2="318.9" y2="640.2" stroke="#231f20" stroke-width="1.2" />
<text transform="translate(318.2,648.9) rotate(-45)" font-size="9.4" fill="#231f20" stroke="#231f20" text-anchor="end" textLength="33.5" lengthAdjust="spacingAndGlyphs">Y2A OE</text>
<path d="M262.8 521.3 V484.8 H291.2 V492.9" fill="none" stroke="#231f20" stroke-width="1.4"/>
<text x="276.9" y="484" font-size="10" fill="#231f20" stroke="#231f20" text-anchor="middle" >*</text>
<path d="M291.2 475.6 V468 H319.3 V494" fill="none" stroke="#231f20" stroke-width="1.4"/>
<text x="305.5" y="467.2" font-size="10" fill="#231f20" stroke="#231f20" text-anchor="middle" >*</text>
<text transform="translate(215.8,563.5) rotate(-90)" font-size="12" fill="#231f20" stroke="#231f20" text-anchor="middle" textLength="22.6" lengthAdjust="spacingAndGlyphs">S (%)</text>
<rect x="420.4" y="605.5" width="16.6" height="30.2" fill="#36a931" />
<rect x="449.6" y="544.3" width="16.4" height="91.4" fill="#c8082c" />
<rect x="478.1" y="591.6" width="16.9" height="44.1" fill="#36a3dd" />
<line x1="428.7" y1="603.6" x2="428.7" y2="608.5" stroke="#231f20" stroke-width="1.4" />
<line x1="423.7" y1="603.6" x2="433.7" y2="603.6" stroke="#231f20" stroke-width="1.4" />
<line x1="423.7" y1="608.5" x2="433.7" y2="608.5" stroke="#231f20" stroke-width="1.4" />
<line x1="457.8" y1="524.3" x2="457.8" y2="560.5" stroke="#231f20" stroke-width="1.4" />
<line x1="452.8" y1="524.3" x2="462.8" y2="524.3" stroke="#231f20" stroke-width="1.4" />
<line x1="452.8" y1="560.5" x2="462.8" y2="560.5" stroke="#231f20" stroke-width="1.4" />
<line x1="486.6" y1="591" x2="486.6" y2="592.5" stroke="#231f20" stroke-width="1.4" />
<line x1="481.6" y1="591" x2="491.6" y2="591" stroke="#231f20" stroke-width="1.4" />
<line x1="481.6" y1="592.5" x2="491.6" y2="592.5" stroke="#231f20" stroke-width="1.4" />
<circle cx="424.3" cy="602.7" r="2" fill="#231f20"/>
<circle cx="433.1" cy="603.4" r="2" fill="#231f20"/>
<circle cx="428.7" cy="608.5" r="2" fill="#231f20"/>
<circle cx="457.8" cy="523.4" r="2" fill="#231f20"/>
<circle cx="457.8" cy="545.2" r="2" fill="#231f20"/>
<circle cx="457.8" cy="559.5" r="2" fill="#231f20"/>
<circle cx="479.2" cy="591.8" r="2" fill="#231f20"/>
<circle cx="486.6" cy="590.5" r="2" fill="#231f20"/>
<circle cx="494" cy="591.2" r="2" fill="#231f20"/>
<line x1="409.3" y1="487.4" x2="409.3" y2="636.55" stroke="#231f20" stroke-width="1.7" />
<line x1="408.45" y1="635.7" x2="505.5" y2="635.7" stroke="#231f20" stroke-width="1.7" />
<line x1="404.5" y1="491.7" x2="409.3" y2="491.7" stroke="#231f20" stroke-width="1.2" />
<text x="400.3" y="494.6" font-size="9.7" fill="#231f20" stroke="#231f20" text-anchor="end" textLength="10.3" lengthAdjust="spacingAndGlyphs" >25</text>
<line x1="404.5" y1="520.5" x2="409.3" y2="520.5" stroke="#231f20" stroke-width="1.2" />
<text x="400.3" y="523.4" font-size="9.7" fill="#231f20" stroke="#231f20" text-anchor="end" textLength="10.3" lengthAdjust="spacingAndGlyphs" >20</text>
<line x1="404.5" y1="549.3" x2="409.3" y2="549.3" stroke="#231f20" stroke-width="1.2" />
<text x="400.3" y="552.2" font-size="9.7" fill="#231f20" stroke="#231f20" text-anchor="end" textLength="10.3" lengthAdjust="spacingAndGlyphs" >15</text>
<line x1="404.5" y1="578.1" x2="409.3" y2="578.1" stroke="#231f20" stroke-width="1.2" />
<text x="400.3" y="581" font-size="9.7" fill="#231f20" stroke="#231f20" text-anchor="end" textLength="10.3" lengthAdjust="spacingAndGlyphs" >10</text>
<line x1="404.5" y1="606.9" x2="409.3" y2="606.9" stroke="#231f20" stroke-width="1.2" />
<text x="400.3" y="609.8" font-size="9.7" fill="#231f20" stroke="#231f20" text-anchor="end" textLength="5.15" lengthAdjust="spacingAndGlyphs" >5</text>
<line x1="404.5" y1="635.7" x2="409.3" y2="635.7" stroke="#231f20" stroke-width="1.2" />
<text x="400.3" y="638.6" font-size="9.7" fill="#231f20" stroke="#231f20" text-anchor="end" textLength="5.15" lengthAdjust="spacingAndGlyphs" >0</text>
<line x1="428.7" y1="635.7" x2="428.7" y2="640.2" stroke="#231f20" stroke-width="1.2" />
<text transform="translate(428,648.9) rotate(-45)" font-size="9.4" fill="#231f20" stroke="#231f20" text-anchor="end" textLength="10.5" lengthAdjust="spacingAndGlyphs">EV</text>
<line x1="457.8" y1="635.7" x2="457.8" y2="640.2" stroke="#231f20" stroke-width="1.2" />
<text transform="translate(457.1,648.9) rotate(-45)" font-size="9.4" fill="#231f20" stroke="#231f20" text-anchor="end" textLength="50" lengthAdjust="spacingAndGlyphs">HEXIM1 OE</text>
<line x1="486.6" y1="635.7" x2="486.6" y2="640.2" stroke="#231f20" stroke-width="1.2" />
<text transform="translate(485.9,648.9) rotate(-45)" font-size="9.4" fill="#231f20" stroke="#231f20" text-anchor="end" textLength="33.5" lengthAdjust="spacingAndGlyphs">Y2A OE</text>
<path d="M428.5 546.2 V507.9 H458 V516" fill="none" stroke="#231f20" stroke-width="1.4"/>
<text x="443.5" y="507.2" font-size="10" fill="#231f20" stroke="#231f20" text-anchor="middle" >**</text>
<path d="M458 492.2 V484.4 H486.6 V506.7" fill="none" stroke="#231f20" stroke-width="1.4"/>
<text x="472.3" y="483.7" font-size="10" fill="#231f20" stroke="#231f20" text-anchor="middle" >**</text>
<text transform="translate(381,561) rotate(-90)" font-size="12.3" fill="#231f20" stroke="#231f20" text-anchor="middle" textLength="29.3" lengthAdjust="spacingAndGlyphs">G2 (%)</text>
<text transform="translate(21.1,315) rotate(-90)" font-size="12.8" fill="#231f20" stroke="#231f20" text-anchor="middle" textLength="53.7" lengthAdjust="spacingAndGlyphs">HUDEP-2</text>
<text transform="translate(20.7,562.4) rotate(-90)" font-size="12.5" fill="#231f20" stroke="#231f20" text-anchor="middle" textLength="38.8" lengthAdjust="spacingAndGlyphs">CD36+</text>
</svg></div></body></html>
